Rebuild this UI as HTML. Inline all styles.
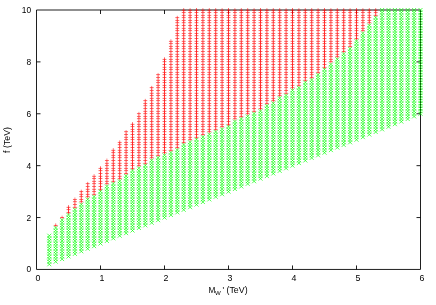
<!DOCTYPE html>
<html><head><meta charset="utf-8"><title>plot</title>
<style>
html,body{margin:0;padding:0;background:#fff;}
body{width:436px;height:305px;overflow:hidden;}
svg{display:block}
text{font-family:"Liberation Sans",sans-serif;font-size:8.4px;fill:#000;}
</style></head><body>
<svg width="436" height="305" viewBox="0 0 436 305">
<rect width="436" height="305" fill="#fff"/>
<g fill="none">
<path stroke="#000" stroke-width="0.88" d="M36.5 10H420.5V269.45H36.5ZM100.5 269.45v-4.0M100.5 10v4.0M164.5 269.45v-4.0M164.5 10v4.0M228.5 269.45v-4.0M228.5 10v4.0M292.5 269.45v-4.0M292.5 10v4.0M356.5 269.45v-4.0M356.5 10v4.0M36.5 217.56h4.0M420.5 217.56h-4.0M36.5 165.67h4.0M420.5 165.67h-4.0M36.5 113.78h4.0M420.5 113.78h-4.0M36.5 61.89h4.0M420.5 61.89h-4.0"/>
<path stroke="#ff0000" stroke-width="0.62" d="M68.5 210.42v3.9M68.5 207.83v3.9M68.5 205.23v3.9M100.5 187.07v3.9M100.5 184.48v3.9M100.5 181.88v3.9M100.5 179.29v3.9M100.5 176.69v3.9M100.5 174.1v3.9M100.5 171.5v3.9M100.5 168.91v3.9M100.5 166.31v3.9M132.5 166.31v3.9M132.5 163.72v3.9M132.5 161.13v3.9M132.5 158.53v3.9M132.5 155.94v3.9M132.5 153.34v3.9M132.5 150.75v3.9M132.5 148.15v3.9M132.5 145.56v3.9M132.5 142.96v3.9M132.5 140.37v3.9M132.5 137.78v3.9M132.5 135.18v3.9M132.5 132.59v3.9M132.5 129.99v3.9M132.5 127.4v3.9M132.5 124.8v3.9M132.5 122.21v3.9M164.5 150.75v3.9M164.5 148.15v3.9M164.5 145.56v3.9M164.5 142.96v3.9M164.5 140.37v3.9M164.5 137.78v3.9M164.5 135.18v3.9M164.5 132.59v3.9M164.5 129.99v3.9M164.5 127.4v3.9M164.5 124.8v3.9M164.5 122.21v3.9M164.5 119.61v3.9M164.5 117.02v3.9M164.5 114.42v3.9M164.5 111.83v3.9M164.5 109.24v3.9M164.5 106.64v3.9M164.5 104.05v3.9M164.5 101.45v3.9M164.5 98.86v3.9M164.5 96.26v3.9M164.5 93.67v3.9M164.5 91.07v3.9M164.5 88.48v3.9M164.5 85.88v3.9M164.5 83.29v3.9M164.5 80.7v3.9M164.5 78.1v3.9M164.5 75.51v3.9M164.5 72.91v3.9M164.5 70.32v3.9M164.5 67.72v3.9M164.5 65.13v3.9M164.5 62.53v3.9M164.5 59.94v3.9M164.5 57.35v3.9M196.5 135.18v3.9M196.5 132.59v3.9M196.5 129.99v3.9M196.5 127.4v3.9M196.5 124.8v3.9M196.5 122.21v3.9M196.5 119.61v3.9M196.5 117.02v3.9M196.5 114.42v3.9M196.5 111.83v3.9M196.5 109.24v3.9M196.5 106.64v3.9M196.5 104.05v3.9M196.5 101.45v3.9M196.5 98.86v3.9M196.5 96.26v3.9M196.5 93.67v3.9M196.5 91.07v3.9M196.5 88.48v3.9M196.5 85.88v3.9M196.5 83.29v3.9M196.5 80.7v3.9M196.5 78.1v3.9M196.5 75.51v3.9M196.5 72.91v3.9M196.5 70.32v3.9M196.5 67.72v3.9M196.5 65.13v3.9M196.5 62.53v3.9M196.5 59.94v3.9M196.5 57.35v3.9M196.5 54.75v3.9M196.5 52.16v3.9M196.5 49.56v3.9M196.5 46.97v3.9M196.5 44.37v3.9M196.5 41.78v3.9M196.5 39.18v3.9M196.5 36.59v3.9M196.5 33.99v3.9M196.5 31.4v3.9M196.5 28.81v3.9M196.5 26.21v3.9M196.5 23.62v3.9M196.5 21.02v3.9M196.5 18.43v3.9M196.5 15.83v3.9M196.5 13.24v3.9M196.5 10.64v3.9M196.5 8.05v3.9M228.5 122.21v3.9M228.5 119.61v3.9M228.5 117.02v3.9M228.5 114.42v3.9M228.5 111.83v3.9M228.5 109.24v3.9M228.5 106.64v3.9M228.5 104.05v3.9M228.5 101.45v3.9M228.5 98.86v3.9M228.5 96.26v3.9M228.5 93.67v3.9M228.5 91.07v3.9M228.5 88.48v3.9M228.5 85.88v3.9M228.5 83.29v3.9M228.5 80.7v3.9M228.5 78.1v3.9M228.5 75.51v3.9M228.5 72.91v3.9M228.5 70.32v3.9M228.5 67.72v3.9M228.5 65.13v3.9M228.5 62.53v3.9M228.5 59.94v3.9M228.5 57.35v3.9M228.5 54.75v3.9M228.5 52.16v3.9M228.5 49.56v3.9M228.5 46.97v3.9M228.5 44.37v3.9M228.5 41.78v3.9M228.5 39.18v3.9M228.5 36.59v3.9M228.5 33.99v3.9M228.5 31.4v3.9M228.5 28.81v3.9M228.5 26.21v3.9M228.5 23.62v3.9M228.5 21.02v3.9M228.5 18.43v3.9M228.5 15.83v3.9M228.5 13.24v3.9M228.5 10.64v3.9M228.5 8.05v3.9M260.5 106.64v3.9M260.5 104.05v3.9M260.5 101.45v3.9M260.5 98.86v3.9M260.5 96.26v3.9M260.5 93.67v3.9M260.5 91.07v3.9M260.5 88.48v3.9M260.5 85.88v3.9M260.5 83.29v3.9M260.5 80.7v3.9M260.5 78.1v3.9M260.5 75.51v3.9M260.5 72.91v3.9M260.5 70.32v3.9M260.5 67.72v3.9M260.5 65.13v3.9M260.5 62.53v3.9M260.5 59.94v3.9M260.5 57.35v3.9M260.5 54.75v3.9M260.5 52.16v3.9M260.5 49.56v3.9M260.5 46.97v3.9M260.5 44.37v3.9M260.5 41.78v3.9M260.5 39.18v3.9M260.5 36.59v3.9M260.5 33.99v3.9M260.5 31.4v3.9M260.5 28.81v3.9M260.5 26.21v3.9M260.5 23.62v3.9M260.5 21.02v3.9M260.5 18.43v3.9M260.5 15.83v3.9M260.5 13.24v3.9M260.5 10.64v3.9M260.5 8.05v3.9M292.5 85.88v3.9M292.5 83.29v3.9M292.5 80.7v3.9M292.5 78.1v3.9M292.5 75.51v3.9M292.5 72.91v3.9M292.5 70.32v3.9M292.5 67.72v3.9M292.5 65.13v3.9M292.5 62.53v3.9M292.5 59.94v3.9M292.5 57.35v3.9M292.5 54.75v3.9M292.5 52.16v3.9M292.5 49.56v3.9M292.5 46.97v3.9M292.5 44.37v3.9M292.5 41.78v3.9M292.5 39.18v3.9M292.5 36.59v3.9M292.5 33.99v3.9M292.5 31.4v3.9M292.5 28.81v3.9M292.5 26.21v3.9M292.5 23.62v3.9M292.5 21.02v3.9M292.5 18.43v3.9M292.5 15.83v3.9M292.5 13.24v3.9M292.5 10.64v3.9M292.5 8.05v3.9M324.5 65.13v3.9M324.5 62.53v3.9M324.5 59.94v3.9M324.5 57.35v3.9M324.5 54.75v3.9M324.5 52.16v3.9M324.5 49.56v3.9M324.5 46.97v3.9M324.5 44.37v3.9M324.5 41.78v3.9M324.5 39.18v3.9M324.5 36.59v3.9M324.5 33.99v3.9M324.5 31.4v3.9M324.5 28.81v3.9M324.5 26.21v3.9M324.5 23.62v3.9M324.5 21.02v3.9M324.5 18.43v3.9M324.5 15.83v3.9M324.5 13.24v3.9M324.5 10.64v3.9M324.5 8.05v3.9M356.5 36.59v3.9M356.5 33.99v3.9M356.5 31.4v3.9M356.5 28.81v3.9M356.5 26.21v3.9M356.5 23.62v3.9M356.5 21.02v3.9M356.5 18.43v3.9M356.5 15.83v3.9M356.5 13.24v3.9M356.5 10.64v3.9M356.5 8.05v3.9"/>
<path stroke="#ff0000" stroke-width="0.52" d="M55.7 223.39v3.9M81.3 200.04v3.9M81.3 197.45v3.9M81.3 194.85v3.9M81.3 192.26v3.9M81.3 189.66v3.9M87.7 194.85v3.9M87.7 192.26v3.9M87.7 189.66v3.9M87.7 187.07v3.9M87.7 184.48v3.9M87.7 181.88v3.9M113.3 179.29v3.9M113.3 176.69v3.9M113.3 174.1v3.9M113.3 171.5v3.9M113.3 168.91v3.9M113.3 166.31v3.9M113.3 163.72v3.9M113.3 161.13v3.9M113.3 158.53v3.9M113.3 155.94v3.9M113.3 153.34v3.9M113.3 150.75v3.9M113.3 148.15v3.9M119.7 176.69v3.9M119.7 174.1v3.9M119.7 171.5v3.9M119.7 168.91v3.9M119.7 166.31v3.9M119.7 163.72v3.9M119.7 161.13v3.9M119.7 158.53v3.9M119.7 155.94v3.9M119.7 153.34v3.9M119.7 150.75v3.9M119.7 148.15v3.9M119.7 145.56v3.9M119.7 142.96v3.9M119.7 140.37v3.9M145.3 161.13v3.9M145.3 158.53v3.9M145.3 155.94v3.9M145.3 153.34v3.9M145.3 150.75v3.9M145.3 148.15v3.9M145.3 145.56v3.9M145.3 142.96v3.9M145.3 140.37v3.9M145.3 137.78v3.9M145.3 135.18v3.9M145.3 132.59v3.9M145.3 129.99v3.9M145.3 127.4v3.9M145.3 124.8v3.9M145.3 122.21v3.9M145.3 119.61v3.9M145.3 117.02v3.9M145.3 114.42v3.9M145.3 111.83v3.9M145.3 109.24v3.9M145.3 106.64v3.9M145.3 104.05v3.9M145.3 101.45v3.9M145.3 98.86v3.9M151.7 155.94v3.9M151.7 153.34v3.9M151.7 150.75v3.9M151.7 148.15v3.9M151.7 145.56v3.9M151.7 142.96v3.9M151.7 140.37v3.9M151.7 137.78v3.9M151.7 135.18v3.9M151.7 132.59v3.9M151.7 129.99v3.9M151.7 127.4v3.9M151.7 124.8v3.9M151.7 122.21v3.9M151.7 119.61v3.9M151.7 117.02v3.9M151.7 114.42v3.9M151.7 111.83v3.9M151.7 109.24v3.9M151.7 106.64v3.9M151.7 104.05v3.9M151.7 101.45v3.9M151.7 98.86v3.9M151.7 96.26v3.9M151.7 93.67v3.9M151.7 91.07v3.9M151.7 88.48v3.9M151.7 85.88v3.9M177.3 145.56v3.9M177.3 142.96v3.9M177.3 140.37v3.9M177.3 137.78v3.9M177.3 135.18v3.9M177.3 132.59v3.9M177.3 129.99v3.9M177.3 127.4v3.9M177.3 124.8v3.9M177.3 122.21v3.9M177.3 119.61v3.9M177.3 117.02v3.9M177.3 114.42v3.9M177.3 111.83v3.9M177.3 109.24v3.9M177.3 106.64v3.9M177.3 104.05v3.9M177.3 101.45v3.9M177.3 98.86v3.9M177.3 96.26v3.9M177.3 93.67v3.9M177.3 91.07v3.9M177.3 88.48v3.9M177.3 85.88v3.9M177.3 83.29v3.9M177.3 80.7v3.9M177.3 78.1v3.9M177.3 75.51v3.9M177.3 72.91v3.9M177.3 70.32v3.9M177.3 67.72v3.9M177.3 65.13v3.9M177.3 62.53v3.9M177.3 59.94v3.9M177.3 57.35v3.9M177.3 54.75v3.9M177.3 52.16v3.9M177.3 49.56v3.9M177.3 46.97v3.9M177.3 44.37v3.9M177.3 41.78v3.9M177.3 39.18v3.9M177.3 36.59v3.9M177.3 33.99v3.9M177.3 31.4v3.9M177.3 28.81v3.9M177.3 26.21v3.9M177.3 23.62v3.9M177.3 21.02v3.9M177.3 18.43v3.9M177.3 15.83v3.9M183.7 140.37v3.9M183.7 137.78v3.9M183.7 135.18v3.9M183.7 132.59v3.9M183.7 129.99v3.9M183.7 127.4v3.9M183.7 124.8v3.9M183.7 122.21v3.9M183.7 119.61v3.9M183.7 117.02v3.9M183.7 114.42v3.9M183.7 111.83v3.9M183.7 109.24v3.9M183.7 106.64v3.9M183.7 104.05v3.9M183.7 101.45v3.9M183.7 98.86v3.9M183.7 96.26v3.9M183.7 93.67v3.9M183.7 91.07v3.9M183.7 88.48v3.9M183.7 85.88v3.9M183.7 83.29v3.9M183.7 80.7v3.9M183.7 78.1v3.9M183.7 75.51v3.9M183.7 72.91v3.9M183.7 70.32v3.9M183.7 67.72v3.9M183.7 65.13v3.9M183.7 62.53v3.9M183.7 59.94v3.9M183.7 57.35v3.9M183.7 54.75v3.9M183.7 52.16v3.9M183.7 49.56v3.9M183.7 46.97v3.9M183.7 44.37v3.9M183.7 41.78v3.9M183.7 39.18v3.9M183.7 36.59v3.9M183.7 33.99v3.9M183.7 31.4v3.9M183.7 28.81v3.9M183.7 26.21v3.9M183.7 23.62v3.9M183.7 21.02v3.9M183.7 18.43v3.9M183.7 15.83v3.9M183.7 13.24v3.9M183.7 10.64v3.9M183.7 8.05v3.9M209.3 129.99v3.9M209.3 127.4v3.9M209.3 124.8v3.9M209.3 122.21v3.9M209.3 119.61v3.9M209.3 117.02v3.9M209.3 114.42v3.9M209.3 111.83v3.9M209.3 109.24v3.9M209.3 106.64v3.9M209.3 104.05v3.9M209.3 101.45v3.9M209.3 98.86v3.9M209.3 96.26v3.9M209.3 93.67v3.9M209.3 91.07v3.9M209.3 88.48v3.9M209.3 85.88v3.9M209.3 83.29v3.9M209.3 80.7v3.9M209.3 78.1v3.9M209.3 75.51v3.9M209.3 72.91v3.9M209.3 70.32v3.9M209.3 67.72v3.9M209.3 65.13v3.9M209.3 62.53v3.9M209.3 59.94v3.9M209.3 57.35v3.9M209.3 54.75v3.9M209.3 52.16v3.9M209.3 49.56v3.9M209.3 46.97v3.9M209.3 44.37v3.9M209.3 41.78v3.9M209.3 39.18v3.9M209.3 36.59v3.9M209.3 33.99v3.9M209.3 31.4v3.9M209.3 28.81v3.9M209.3 26.21v3.9M209.3 23.62v3.9M209.3 21.02v3.9M209.3 18.43v3.9M209.3 15.83v3.9M209.3 13.24v3.9M209.3 10.64v3.9M209.3 8.05v3.9M215.7 127.4v3.9M215.7 124.8v3.9M215.7 122.21v3.9M215.7 119.61v3.9M215.7 117.02v3.9M215.7 114.42v3.9M215.7 111.83v3.9M215.7 109.24v3.9M215.7 106.64v3.9M215.7 104.05v3.9M215.7 101.45v3.9M215.7 98.86v3.9M215.7 96.26v3.9M215.7 93.67v3.9M215.7 91.07v3.9M215.7 88.48v3.9M215.7 85.88v3.9M215.7 83.29v3.9M215.7 80.7v3.9M215.7 78.1v3.9M215.7 75.51v3.9M215.7 72.91v3.9M215.7 70.32v3.9M215.7 67.72v3.9M215.7 65.13v3.9M215.7 62.53v3.9M215.7 59.94v3.9M215.7 57.35v3.9M215.7 54.75v3.9M215.7 52.16v3.9M215.7 49.56v3.9M215.7 46.97v3.9M215.7 44.37v3.9M215.7 41.78v3.9M215.7 39.18v3.9M215.7 36.59v3.9M215.7 33.99v3.9M215.7 31.4v3.9M215.7 28.81v3.9M215.7 26.21v3.9M215.7 23.62v3.9M215.7 21.02v3.9M215.7 18.43v3.9M215.7 15.83v3.9M215.7 13.24v3.9M215.7 10.64v3.9M215.7 8.05v3.9M241.3 114.42v3.9M241.3 111.83v3.9M241.3 109.24v3.9M241.3 106.64v3.9M241.3 104.05v3.9M241.3 101.45v3.9M241.3 98.86v3.9M241.3 96.26v3.9M241.3 93.67v3.9M241.3 91.07v3.9M241.3 88.48v3.9M241.3 85.88v3.9M241.3 83.29v3.9M241.3 80.7v3.9M241.3 78.1v3.9M241.3 75.51v3.9M241.3 72.91v3.9M241.3 70.32v3.9M241.3 67.72v3.9M241.3 65.13v3.9M241.3 62.53v3.9M241.3 59.94v3.9M241.3 57.35v3.9M241.3 54.75v3.9M241.3 52.16v3.9M241.3 49.56v3.9M241.3 46.97v3.9M241.3 44.37v3.9M241.3 41.78v3.9M241.3 39.18v3.9M241.3 36.59v3.9M241.3 33.99v3.9M241.3 31.4v3.9M241.3 28.81v3.9M241.3 26.21v3.9M241.3 23.62v3.9M241.3 21.02v3.9M241.3 18.43v3.9M241.3 15.83v3.9M241.3 13.24v3.9M241.3 10.64v3.9M241.3 8.05v3.9M247.7 111.83v3.9M247.7 109.24v3.9M247.7 106.64v3.9M247.7 104.05v3.9M247.7 101.45v3.9M247.7 98.86v3.9M247.7 96.26v3.9M247.7 93.67v3.9M247.7 91.07v3.9M247.7 88.48v3.9M247.7 85.88v3.9M247.7 83.29v3.9M247.7 80.7v3.9M247.7 78.1v3.9M247.7 75.51v3.9M247.7 72.91v3.9M247.7 70.32v3.9M247.7 67.72v3.9M247.7 65.13v3.9M247.7 62.53v3.9M247.7 59.94v3.9M247.7 57.35v3.9M247.7 54.75v3.9M247.7 52.16v3.9M247.7 49.56v3.9M247.7 46.97v3.9M247.7 44.37v3.9M247.7 41.78v3.9M247.7 39.18v3.9M247.7 36.59v3.9M247.7 33.99v3.9M247.7 31.4v3.9M247.7 28.81v3.9M247.7 26.21v3.9M247.7 23.62v3.9M247.7 21.02v3.9M247.7 18.43v3.9M247.7 15.83v3.9M247.7 13.24v3.9M247.7 10.64v3.9M247.7 8.05v3.9M273.3 98.86v3.9M273.3 96.26v3.9M273.3 93.67v3.9M273.3 91.07v3.9M273.3 88.48v3.9M273.3 85.88v3.9M273.3 83.29v3.9M273.3 80.7v3.9M273.3 78.1v3.9M273.3 75.51v3.9M273.3 72.91v3.9M273.3 70.32v3.9M273.3 67.72v3.9M273.3 65.13v3.9M273.3 62.53v3.9M273.3 59.94v3.9M273.3 57.35v3.9M273.3 54.75v3.9M273.3 52.16v3.9M273.3 49.56v3.9M273.3 46.97v3.9M273.3 44.37v3.9M273.3 41.78v3.9M273.3 39.18v3.9M273.3 36.59v3.9M273.3 33.99v3.9M273.3 31.4v3.9M273.3 28.81v3.9M273.3 26.21v3.9M273.3 23.62v3.9M273.3 21.02v3.9M273.3 18.43v3.9M273.3 15.83v3.9M273.3 13.24v3.9M273.3 10.64v3.9M273.3 8.05v3.9M279.7 93.67v3.9M279.7 91.07v3.9M279.7 88.48v3.9M279.7 85.88v3.9M279.7 83.29v3.9M279.7 80.7v3.9M279.7 78.1v3.9M279.7 75.51v3.9M279.7 72.91v3.9M279.7 70.32v3.9M279.7 67.72v3.9M279.7 65.13v3.9M279.7 62.53v3.9M279.7 59.94v3.9M279.7 57.35v3.9M279.7 54.75v3.9M279.7 52.16v3.9M279.7 49.56v3.9M279.7 46.97v3.9M279.7 44.37v3.9M279.7 41.78v3.9M279.7 39.18v3.9M279.7 36.59v3.9M279.7 33.99v3.9M279.7 31.4v3.9M279.7 28.81v3.9M279.7 26.21v3.9M279.7 23.62v3.9M279.7 21.02v3.9M279.7 18.43v3.9M279.7 15.83v3.9M279.7 13.24v3.9M279.7 10.64v3.9M279.7 8.05v3.9M305.3 78.1v3.9M305.3 75.51v3.9M305.3 72.91v3.9M305.3 70.32v3.9M305.3 67.72v3.9M305.3 65.13v3.9M305.3 62.53v3.9M305.3 59.94v3.9M305.3 57.35v3.9M305.3 54.75v3.9M305.3 52.16v3.9M305.3 49.56v3.9M305.3 46.97v3.9M305.3 44.37v3.9M305.3 41.78v3.9M305.3 39.18v3.9M305.3 36.59v3.9M305.3 33.99v3.9M305.3 31.4v3.9M305.3 28.81v3.9M305.3 26.21v3.9M305.3 23.62v3.9M305.3 21.02v3.9M305.3 18.43v3.9M305.3 15.83v3.9M305.3 13.24v3.9M305.3 10.64v3.9M305.3 8.05v3.9M311.7 75.51v3.9M311.7 72.91v3.9M311.7 70.32v3.9M311.7 67.72v3.9M311.7 65.13v3.9M311.7 62.53v3.9M311.7 59.94v3.9M311.7 57.35v3.9M311.7 54.75v3.9M311.7 52.16v3.9M311.7 49.56v3.9M311.7 46.97v3.9M311.7 44.37v3.9M311.7 41.78v3.9M311.7 39.18v3.9M311.7 36.59v3.9M311.7 33.99v3.9M311.7 31.4v3.9M311.7 28.81v3.9M311.7 26.21v3.9M311.7 23.62v3.9M311.7 21.02v3.9M311.7 18.43v3.9M311.7 15.83v3.9M311.7 13.24v3.9M311.7 10.64v3.9M311.7 8.05v3.9M337.3 54.75v3.9M337.3 52.16v3.9M337.3 49.56v3.9M337.3 46.97v3.9M337.3 44.37v3.9M337.3 41.78v3.9M337.3 39.18v3.9M337.3 36.59v3.9M337.3 33.99v3.9M337.3 31.4v3.9M337.3 28.81v3.9M337.3 26.21v3.9M337.3 23.62v3.9M337.3 21.02v3.9M337.3 18.43v3.9M337.3 15.83v3.9M337.3 13.24v3.9M337.3 10.64v3.9M337.3 8.05v3.9M343.7 49.56v3.9M343.7 46.97v3.9M343.7 44.37v3.9M343.7 41.78v3.9M343.7 39.18v3.9M343.7 36.59v3.9M343.7 33.99v3.9M343.7 31.4v3.9M343.7 28.81v3.9M343.7 26.21v3.9M343.7 23.62v3.9M343.7 21.02v3.9M343.7 18.43v3.9M343.7 15.83v3.9M343.7 13.24v3.9M343.7 10.64v3.9M343.7 8.05v3.9M369.3 21.02v3.9M369.3 18.43v3.9M369.3 15.83v3.9M369.3 13.24v3.9M369.3 10.64v3.9M369.3 8.05v3.9M375.7 13.24v3.9M375.7 10.64v3.9M375.7 8.05v3.9"/>
<path stroke="#ff0000" stroke-width="0.45" d="M62.1 215.61v3.9M74.9 205.23v3.9M74.9 202.64v3.9M74.9 200.04v3.9M74.9 197.45v3.9M94.1 192.26v3.9M94.1 189.66v3.9M94.1 187.07v3.9M94.1 184.48v3.9M94.1 181.88v3.9M94.1 179.29v3.9M94.1 176.69v3.9M94.1 174.1v3.9M106.9 181.88v3.9M106.9 179.29v3.9M106.9 176.69v3.9M106.9 174.1v3.9M106.9 171.5v3.9M106.9 168.91v3.9M106.9 166.31v3.9M106.9 163.72v3.9M106.9 161.13v3.9M106.9 158.53v3.9M126.1 171.5v3.9M126.1 168.91v3.9M126.1 166.31v3.9M126.1 163.72v3.9M126.1 161.13v3.9M126.1 158.53v3.9M126.1 155.94v3.9M126.1 153.34v3.9M126.1 150.75v3.9M126.1 148.15v3.9M126.1 145.56v3.9M126.1 142.96v3.9M126.1 140.37v3.9M126.1 137.78v3.9M126.1 135.18v3.9M126.1 132.59v3.9M126.1 129.99v3.9M138.9 163.72v3.9M138.9 161.13v3.9M138.9 158.53v3.9M138.9 155.94v3.9M138.9 153.34v3.9M138.9 150.75v3.9M138.9 148.15v3.9M138.9 145.56v3.9M138.9 142.96v3.9M138.9 140.37v3.9M138.9 137.78v3.9M138.9 135.18v3.9M138.9 132.59v3.9M138.9 129.99v3.9M138.9 127.4v3.9M138.9 124.8v3.9M138.9 122.21v3.9M138.9 119.61v3.9M138.9 117.02v3.9M138.9 114.42v3.9M138.9 111.83v3.9M158.1 153.34v3.9M158.1 150.75v3.9M158.1 148.15v3.9M158.1 145.56v3.9M158.1 142.96v3.9M158.1 140.37v3.9M158.1 137.78v3.9M158.1 135.18v3.9M158.1 132.59v3.9M158.1 129.99v3.9M158.1 127.4v3.9M158.1 124.8v3.9M158.1 122.21v3.9M158.1 119.61v3.9M158.1 117.02v3.9M158.1 114.42v3.9M158.1 111.83v3.9M158.1 109.24v3.9M158.1 106.64v3.9M158.1 104.05v3.9M158.1 101.45v3.9M158.1 98.86v3.9M158.1 96.26v3.9M158.1 93.67v3.9M158.1 91.07v3.9M158.1 88.48v3.9M158.1 85.88v3.9M158.1 83.29v3.9M158.1 80.7v3.9M158.1 78.1v3.9M158.1 75.51v3.9M158.1 72.91v3.9M170.9 148.15v3.9M170.9 145.56v3.9M170.9 142.96v3.9M170.9 140.37v3.9M170.9 137.78v3.9M170.9 135.18v3.9M170.9 132.59v3.9M170.9 129.99v3.9M170.9 127.4v3.9M170.9 124.8v3.9M170.9 122.21v3.9M170.9 119.61v3.9M170.9 117.02v3.9M170.9 114.42v3.9M170.9 111.83v3.9M170.9 109.24v3.9M170.9 106.64v3.9M170.9 104.05v3.9M170.9 101.45v3.9M170.9 98.86v3.9M170.9 96.26v3.9M170.9 93.67v3.9M170.9 91.07v3.9M170.9 88.48v3.9M170.9 85.88v3.9M170.9 83.29v3.9M170.9 80.7v3.9M170.9 78.1v3.9M170.9 75.51v3.9M170.9 72.91v3.9M170.9 70.32v3.9M170.9 67.72v3.9M170.9 65.13v3.9M170.9 62.53v3.9M170.9 59.94v3.9M170.9 57.35v3.9M170.9 54.75v3.9M170.9 52.16v3.9M170.9 49.56v3.9M170.9 46.97v3.9M170.9 44.37v3.9M170.9 41.78v3.9M170.9 39.18v3.9M190.1 137.78v3.9M190.1 135.18v3.9M190.1 132.59v3.9M190.1 129.99v3.9M190.1 127.4v3.9M190.1 124.8v3.9M190.1 122.21v3.9M190.1 119.61v3.9M190.1 117.02v3.9M190.1 114.42v3.9M190.1 111.83v3.9M190.1 109.24v3.9M190.1 106.64v3.9M190.1 104.05v3.9M190.1 101.45v3.9M190.1 98.86v3.9M190.1 96.26v3.9M190.1 93.67v3.9M190.1 91.07v3.9M190.1 88.48v3.9M190.1 85.88v3.9M190.1 83.29v3.9M190.1 80.7v3.9M190.1 78.1v3.9M190.1 75.51v3.9M190.1 72.91v3.9M190.1 70.32v3.9M190.1 67.72v3.9M190.1 65.13v3.9M190.1 62.53v3.9M190.1 59.94v3.9M190.1 57.35v3.9M190.1 54.75v3.9M190.1 52.16v3.9M190.1 49.56v3.9M190.1 46.97v3.9M190.1 44.37v3.9M190.1 41.78v3.9M190.1 39.18v3.9M190.1 36.59v3.9M190.1 33.99v3.9M190.1 31.4v3.9M190.1 28.81v3.9M190.1 26.21v3.9M190.1 23.62v3.9M190.1 21.02v3.9M190.1 18.43v3.9M190.1 15.83v3.9M190.1 13.24v3.9M190.1 10.64v3.9M190.1 8.05v3.9M202.9 132.59v3.9M202.9 129.99v3.9M202.9 127.4v3.9M202.9 124.8v3.9M202.9 122.21v3.9M202.9 119.61v3.9M202.9 117.02v3.9M202.9 114.42v3.9M202.9 111.83v3.9M202.9 109.24v3.9M202.9 106.64v3.9M202.9 104.05v3.9M202.9 101.45v3.9M202.9 98.86v3.9M202.9 96.26v3.9M202.9 93.67v3.9M202.9 91.07v3.9M202.9 88.48v3.9M202.9 85.88v3.9M202.9 83.29v3.9M202.9 80.7v3.9M202.9 78.1v3.9M202.9 75.51v3.9M202.9 72.91v3.9M202.9 70.32v3.9M202.9 67.72v3.9M202.9 65.13v3.9M202.9 62.53v3.9M202.9 59.94v3.9M202.9 57.35v3.9M202.9 54.75v3.9M202.9 52.16v3.9M202.9 49.56v3.9M202.9 46.97v3.9M202.9 44.37v3.9M202.9 41.78v3.9M202.9 39.18v3.9M202.9 36.59v3.9M202.9 33.99v3.9M202.9 31.4v3.9M202.9 28.81v3.9M202.9 26.21v3.9M202.9 23.62v3.9M202.9 21.02v3.9M202.9 18.43v3.9M202.9 15.83v3.9M202.9 13.24v3.9M202.9 10.64v3.9M202.9 8.05v3.9M222.1 124.8v3.9M222.1 122.21v3.9M222.1 119.61v3.9M222.1 117.02v3.9M222.1 114.42v3.9M222.1 111.83v3.9M222.1 109.24v3.9M222.1 106.64v3.9M222.1 104.05v3.9M222.1 101.45v3.9M222.1 98.86v3.9M222.1 96.26v3.9M222.1 93.67v3.9M222.1 91.07v3.9M222.1 88.48v3.9M222.1 85.88v3.9M222.1 83.29v3.9M222.1 80.7v3.9M222.1 78.1v3.9M222.1 75.51v3.9M222.1 72.91v3.9M222.1 70.32v3.9M222.1 67.72v3.9M222.1 65.13v3.9M222.1 62.53v3.9M222.1 59.94v3.9M222.1 57.35v3.9M222.1 54.75v3.9M222.1 52.16v3.9M222.1 49.56v3.9M222.1 46.97v3.9M222.1 44.37v3.9M222.1 41.78v3.9M222.1 39.18v3.9M222.1 36.59v3.9M222.1 33.99v3.9M222.1 31.4v3.9M222.1 28.81v3.9M222.1 26.21v3.9M222.1 23.62v3.9M222.1 21.02v3.9M222.1 18.43v3.9M222.1 15.83v3.9M222.1 13.24v3.9M222.1 10.64v3.9M222.1 8.05v3.9M234.9 117.02v3.9M234.9 114.42v3.9M234.9 111.83v3.9M234.9 109.24v3.9M234.9 106.64v3.9M234.9 104.05v3.9M234.9 101.45v3.9M234.9 98.86v3.9M234.9 96.26v3.9M234.9 93.67v3.9M234.9 91.07v3.9M234.9 88.48v3.9M234.9 85.88v3.9M234.9 83.29v3.9M234.9 80.7v3.9M234.9 78.1v3.9M234.9 75.51v3.9M234.9 72.91v3.9M234.9 70.32v3.9M234.9 67.72v3.9M234.9 65.13v3.9M234.9 62.53v3.9M234.9 59.94v3.9M234.9 57.35v3.9M234.9 54.75v3.9M234.9 52.16v3.9M234.9 49.56v3.9M234.9 46.97v3.9M234.9 44.37v3.9M234.9 41.78v3.9M234.9 39.18v3.9M234.9 36.59v3.9M234.9 33.99v3.9M234.9 31.4v3.9M234.9 28.81v3.9M234.9 26.21v3.9M234.9 23.62v3.9M234.9 21.02v3.9M234.9 18.43v3.9M234.9 15.83v3.9M234.9 13.24v3.9M234.9 10.64v3.9M234.9 8.05v3.9M254.1 109.24v3.9M254.1 106.64v3.9M254.1 104.05v3.9M254.1 101.45v3.9M254.1 98.86v3.9M254.1 96.26v3.9M254.1 93.67v3.9M254.1 91.07v3.9M254.1 88.48v3.9M254.1 85.88v3.9M254.1 83.29v3.9M254.1 80.7v3.9M254.1 78.1v3.9M254.1 75.51v3.9M254.1 72.91v3.9M254.1 70.32v3.9M254.1 67.72v3.9M254.1 65.13v3.9M254.1 62.53v3.9M254.1 59.94v3.9M254.1 57.35v3.9M254.1 54.75v3.9M254.1 52.16v3.9M254.1 49.56v3.9M254.1 46.97v3.9M254.1 44.37v3.9M254.1 41.78v3.9M254.1 39.18v3.9M254.1 36.59v3.9M254.1 33.99v3.9M254.1 31.4v3.9M254.1 28.81v3.9M254.1 26.21v3.9M254.1 23.62v3.9M254.1 21.02v3.9M254.1 18.43v3.9M254.1 15.83v3.9M254.1 13.24v3.9M254.1 10.64v3.9M254.1 8.05v3.9M266.9 101.45v3.9M266.9 98.86v3.9M266.9 96.26v3.9M266.9 93.67v3.9M266.9 91.07v3.9M266.9 88.48v3.9M266.9 85.88v3.9M266.9 83.29v3.9M266.9 80.7v3.9M266.9 78.1v3.9M266.9 75.51v3.9M266.9 72.91v3.9M266.9 70.32v3.9M266.9 67.72v3.9M266.9 65.13v3.9M266.9 62.53v3.9M266.9 59.94v3.9M266.9 57.35v3.9M266.9 54.75v3.9M266.9 52.16v3.9M266.9 49.56v3.9M266.9 46.97v3.9M266.9 44.37v3.9M266.9 41.78v3.9M266.9 39.18v3.9M266.9 36.59v3.9M266.9 33.99v3.9M266.9 31.4v3.9M266.9 28.81v3.9M266.9 26.21v3.9M266.9 23.62v3.9M266.9 21.02v3.9M266.9 18.43v3.9M266.9 15.83v3.9M266.9 13.24v3.9M266.9 10.64v3.9M266.9 8.05v3.9M286.1 91.07v3.9M286.1 88.48v3.9M286.1 85.88v3.9M286.1 83.29v3.9M286.1 80.7v3.9M286.1 78.1v3.9M286.1 75.51v3.9M286.1 72.91v3.9M286.1 70.32v3.9M286.1 67.72v3.9M286.1 65.13v3.9M286.1 62.53v3.9M286.1 59.94v3.9M286.1 57.35v3.9M286.1 54.75v3.9M286.1 52.16v3.9M286.1 49.56v3.9M286.1 46.97v3.9M286.1 44.37v3.9M286.1 41.78v3.9M286.1 39.18v3.9M286.1 36.59v3.9M286.1 33.99v3.9M286.1 31.4v3.9M286.1 28.81v3.9M286.1 26.21v3.9M286.1 23.62v3.9M286.1 21.02v3.9M286.1 18.43v3.9M286.1 15.83v3.9M286.1 13.24v3.9M286.1 10.64v3.9M286.1 8.05v3.9M298.9 83.29v3.9M298.9 80.7v3.9M298.9 78.1v3.9M298.9 75.51v3.9M298.9 72.91v3.9M298.9 70.32v3.9M298.9 67.72v3.9M298.9 65.13v3.9M298.9 62.53v3.9M298.9 59.94v3.9M298.9 57.35v3.9M298.9 54.75v3.9M298.9 52.16v3.9M298.9 49.56v3.9M298.9 46.97v3.9M298.9 44.37v3.9M298.9 41.78v3.9M298.9 39.18v3.9M298.9 36.59v3.9M298.9 33.99v3.9M298.9 31.4v3.9M298.9 28.81v3.9M298.9 26.21v3.9M298.9 23.62v3.9M298.9 21.02v3.9M298.9 18.43v3.9M298.9 15.83v3.9M298.9 13.24v3.9M298.9 10.64v3.9M298.9 8.05v3.9M318.1 70.32v3.9M318.1 67.72v3.9M318.1 65.13v3.9M318.1 62.53v3.9M318.1 59.94v3.9M318.1 57.35v3.9M318.1 54.75v3.9M318.1 52.16v3.9M318.1 49.56v3.9M318.1 46.97v3.9M318.1 44.37v3.9M318.1 41.78v3.9M318.1 39.18v3.9M318.1 36.59v3.9M318.1 33.99v3.9M318.1 31.4v3.9M318.1 28.81v3.9M318.1 26.21v3.9M318.1 23.62v3.9M318.1 21.02v3.9M318.1 18.43v3.9M318.1 15.83v3.9M318.1 13.24v3.9M318.1 10.64v3.9M318.1 8.05v3.9M330.9 59.94v3.9M330.9 57.35v3.9M330.9 54.75v3.9M330.9 52.16v3.9M330.9 49.56v3.9M330.9 46.97v3.9M330.9 44.37v3.9M330.9 41.78v3.9M330.9 39.18v3.9M330.9 36.59v3.9M330.9 33.99v3.9M330.9 31.4v3.9M330.9 28.81v3.9M330.9 26.21v3.9M330.9 23.62v3.9M330.9 21.02v3.9M330.9 18.43v3.9M330.9 15.83v3.9M330.9 13.24v3.9M330.9 10.64v3.9M330.9 8.05v3.9M350.1 44.37v3.9M350.1 41.78v3.9M350.1 39.18v3.9M350.1 36.59v3.9M350.1 33.99v3.9M350.1 31.4v3.9M350.1 28.81v3.9M350.1 26.21v3.9M350.1 23.62v3.9M350.1 21.02v3.9M350.1 18.43v3.9M350.1 15.83v3.9M350.1 13.24v3.9M350.1 10.64v3.9M350.1 8.05v3.9M362.9 28.81v3.9M362.9 26.21v3.9M362.9 23.62v3.9M362.9 21.02v3.9M362.9 18.43v3.9M362.9 15.83v3.9M362.9 13.24v3.9M362.9 10.64v3.9M362.9 8.05v3.9"/>
<path stroke="#ff0000" stroke-width="0.62" d="M53.75 225.44h3.9M60.15 217.52h3.9M66.55 212.45h3.9M66.55 209.61h3.9M66.55 207.37h3.9M72.95 207.37h3.9M72.95 204.53h3.9M72.95 201.7h3.9M72.95 199.46h3.9M79.35 201.7h3.9M79.35 199.46h3.9M79.35 196.62h3.9M79.35 194.38h3.9M79.35 191.55h3.9M85.75 196.62h3.9M85.75 194.38h3.9M85.75 191.55h3.9M85.75 189.31h3.9M85.75 186.47h3.9M85.75 183.63h3.9M92.15 194.38h3.9M92.15 191.55h3.9M92.15 189.31h3.9M92.15 186.47h3.9M92.15 183.63h3.9M92.15 181.39h3.9M92.15 178.56h3.9M92.15 176.32h3.9M98.55 189.31h3.9M98.55 186.47h3.9M98.55 183.63h3.9M98.55 181.39h3.9M98.55 178.56h3.9M98.55 176.32h3.9M98.55 173.48h3.9M98.55 170.64h3.9M98.55 168.41h3.9M104.95 183.63h3.9M104.95 181.39h3.9M104.95 178.56h3.9M104.95 176.32h3.9M104.95 173.48h3.9M104.95 170.64h3.9M104.95 168.41h3.9M104.95 165.57h3.9M104.95 163.33h3.9M104.95 160.49h3.9M111.35 181.39h3.9M111.35 178.56h3.9M111.35 176.32h3.9M111.35 173.48h3.9M111.35 170.64h3.9M111.35 168.41h3.9M111.35 165.57h3.9M111.35 163.33h3.9M111.35 160.49h3.9M111.35 157.65h3.9M111.35 155.42h3.9M111.35 152.58h3.9M111.35 150.34h3.9M117.75 178.56h3.9M117.75 176.32h3.9M117.75 173.48h3.9M117.75 170.64h3.9M117.75 168.41h3.9M117.75 165.57h3.9M117.75 163.33h3.9M117.75 160.49h3.9M117.75 157.65h3.9M117.75 155.42h3.9M117.75 152.58h3.9M117.75 150.34h3.9M117.75 147.5h3.9M117.75 144.67h3.9M117.75 142.43h3.9M124.15 173.48h3.9M124.15 170.64h3.9M124.15 168.41h3.9M124.15 165.57h3.9M124.15 163.33h3.9M124.15 160.49h3.9M124.15 157.65h3.9M124.15 155.42h3.9M124.15 152.58h3.9M124.15 150.34h3.9M124.15 147.5h3.9M124.15 144.67h3.9M124.15 142.43h3.9M124.15 139.59h3.9M124.15 137.35h3.9M124.15 134.51h3.9M124.15 131.68h3.9M130.55 168.41h3.9M130.55 165.57h3.9M130.55 163.33h3.9M130.55 160.49h3.9M130.55 157.65h3.9M130.55 155.42h3.9M130.55 152.58h3.9M130.55 150.34h3.9M130.55 147.5h3.9M130.55 144.67h3.9M130.55 142.43h3.9M130.55 139.59h3.9M130.55 137.35h3.9M130.55 134.51h3.9M130.55 131.68h3.9M130.55 129.44h3.9M130.55 126.6h3.9M130.55 124.36h3.9M136.95 165.57h3.9M136.95 163.33h3.9M136.95 160.49h3.9M136.95 157.65h3.9M136.95 155.42h3.9M136.95 152.58h3.9M136.95 150.34h3.9M136.95 147.5h3.9M136.95 144.67h3.9M136.95 142.43h3.9M136.95 139.59h3.9M136.95 137.35h3.9M136.95 134.51h3.9M136.95 131.68h3.9M136.95 129.44h3.9M136.95 126.6h3.9M136.95 124.36h3.9M136.95 121.53h3.9M136.95 118.69h3.9M136.95 116.45h3.9M136.95 113.61h3.9M143.35 163.33h3.9M143.35 160.49h3.9M143.35 157.65h3.9M143.35 155.42h3.9M143.35 152.58h3.9M143.35 150.34h3.9M143.35 147.5h3.9M143.35 144.67h3.9M143.35 142.43h3.9M143.35 139.59h3.9M143.35 137.35h3.9M143.35 134.51h3.9M143.35 131.68h3.9M143.35 129.44h3.9M143.35 126.6h3.9M143.35 124.36h3.9M143.35 121.53h3.9M143.35 118.69h3.9M143.35 116.45h3.9M143.35 113.61h3.9M143.35 111.37h3.9M143.35 108.54h3.9M143.35 105.7h3.9M143.35 103.46h3.9M143.35 100.62h3.9M149.75 157.65h3.9M149.75 155.42h3.9M149.75 152.58h3.9M149.75 150.34h3.9M149.75 147.5h3.9M149.75 144.67h3.9M149.75 142.43h3.9M149.75 139.59h3.9M149.75 137.35h3.9M149.75 134.51h3.9M149.75 131.68h3.9M149.75 129.44h3.9M149.75 126.6h3.9M149.75 124.36h3.9M149.75 121.53h3.9M149.75 118.69h3.9M149.75 116.45h3.9M149.75 113.61h3.9M149.75 111.37h3.9M149.75 108.54h3.9M149.75 105.7h3.9M149.75 103.46h3.9M149.75 100.62h3.9M149.75 98.39h3.9M149.75 95.55h3.9M149.75 93.31h3.9M149.75 90.47h3.9M149.75 87.63h3.9M156.15 155.42h3.9M156.15 152.58h3.9M156.15 150.34h3.9M156.15 147.5h3.9M156.15 144.67h3.9M156.15 142.43h3.9M156.15 139.59h3.9M156.15 137.35h3.9M156.15 134.51h3.9M156.15 131.68h3.9M156.15 129.44h3.9M156.15 126.6h3.9M156.15 124.36h3.9M156.15 121.53h3.9M156.15 118.69h3.9M156.15 116.45h3.9M156.15 113.61h3.9M156.15 111.37h3.9M156.15 108.54h3.9M156.15 105.7h3.9M156.15 103.46h3.9M156.15 100.62h3.9M156.15 98.39h3.9M156.15 95.55h3.9M156.15 93.31h3.9M156.15 90.47h3.9M156.15 87.63h3.9M156.15 85.4h3.9M156.15 82.56h3.9M156.15 80.32h3.9M156.15 77.48h3.9M156.15 74.64h3.9M162.55 152.58h3.9M162.55 150.34h3.9M162.55 147.5h3.9M162.55 144.67h3.9M162.55 142.43h3.9M162.55 139.59h3.9M162.55 137.35h3.9M162.55 134.51h3.9M162.55 131.68h3.9M162.55 129.44h3.9M162.55 126.6h3.9M162.55 124.36h3.9M162.55 121.53h3.9M162.55 118.69h3.9M162.55 116.45h3.9M162.55 113.61h3.9M162.55 111.37h3.9M162.55 108.54h3.9M162.55 105.7h3.9M162.55 103.46h3.9M162.55 100.62h3.9M162.55 98.39h3.9M162.55 95.55h3.9M162.55 93.31h3.9M162.55 90.47h3.9M162.55 87.63h3.9M162.55 85.4h3.9M162.55 82.56h3.9M162.55 80.32h3.9M162.55 77.48h3.9M162.55 74.64h3.9M162.55 72.41h3.9M162.55 69.57h3.9M162.55 67.33h3.9M162.55 64.49h3.9M162.55 61.66h3.9M162.55 59.42h3.9M168.95 150.34h3.9M168.95 147.5h3.9M168.95 144.67h3.9M168.95 142.43h3.9M168.95 139.59h3.9M168.95 137.35h3.9M168.95 134.51h3.9M168.95 131.68h3.9M168.95 129.44h3.9M168.95 126.6h3.9M168.95 124.36h3.9M168.95 121.53h3.9M168.95 118.69h3.9M168.95 116.45h3.9M168.95 113.61h3.9M168.95 111.37h3.9M168.95 108.54h3.9M168.95 105.7h3.9M168.95 103.46h3.9M168.95 100.62h3.9M168.95 98.39h3.9M168.95 95.55h3.9M168.95 93.31h3.9M168.95 90.47h3.9M168.95 87.63h3.9M168.95 85.4h3.9M168.95 82.56h3.9M168.95 80.32h3.9M168.95 77.48h3.9M168.95 74.64h3.9M168.95 72.41h3.9M168.95 69.57h3.9M168.95 67.33h3.9M168.95 64.49h3.9M168.95 61.66h3.9M168.95 59.42h3.9M168.95 56.58h3.9M168.95 54.34h3.9M168.95 51.5h3.9M168.95 48.67h3.9M168.95 46.43h3.9M168.95 43.59h3.9M168.95 41.35h3.9M175.35 147.5h3.9M175.35 144.67h3.9M175.35 142.43h3.9M175.35 139.59h3.9M175.35 137.35h3.9M175.35 134.51h3.9M175.35 131.68h3.9M175.35 129.44h3.9M175.35 126.6h3.9M175.35 124.36h3.9M175.35 121.53h3.9M175.35 118.69h3.9M175.35 116.45h3.9M175.35 113.61h3.9M175.35 111.37h3.9M175.35 108.54h3.9M175.35 105.7h3.9M175.35 103.46h3.9M175.35 100.62h3.9M175.35 98.39h3.9M175.35 95.55h3.9M175.35 93.31h3.9M175.35 90.47h3.9M175.35 87.63h3.9M175.35 85.4h3.9M175.35 82.56h3.9M175.35 80.32h3.9M175.35 77.48h3.9M175.35 74.64h3.9M175.35 72.41h3.9M175.35 69.57h3.9M175.35 67.33h3.9M175.35 64.49h3.9M175.35 61.66h3.9M175.35 59.42h3.9M175.35 56.58h3.9M175.35 54.34h3.9M175.35 51.5h3.9M175.35 48.67h3.9M175.35 46.43h3.9M175.35 43.59h3.9M175.35 41.35h3.9M175.35 38.52h3.9M175.35 35.68h3.9M175.35 33.44h3.9M175.35 30.6h3.9M175.35 28.36h3.9M175.35 25.53h3.9M175.35 22.69h3.9M175.35 20.45h3.9M175.35 17.61h3.9M181.75 142.43h3.9M181.75 139.59h3.9M181.75 137.35h3.9M181.75 134.51h3.9M181.75 131.68h3.9M181.75 129.44h3.9M181.75 126.6h3.9M181.75 124.36h3.9M181.75 121.53h3.9M181.75 118.69h3.9M181.75 116.45h3.9M181.75 113.61h3.9M181.75 111.37h3.9M181.75 108.54h3.9M181.75 105.7h3.9M181.75 103.46h3.9M181.75 100.62h3.9M181.75 98.39h3.9M181.75 95.55h3.9M181.75 93.31h3.9M181.75 90.47h3.9M181.75 87.63h3.9M181.75 85.4h3.9M181.75 82.56h3.9M181.75 80.32h3.9M181.75 77.48h3.9M181.75 74.64h3.9M181.75 72.41h3.9M181.75 69.57h3.9M181.75 67.33h3.9M181.75 64.49h3.9M181.75 61.66h3.9M181.75 59.42h3.9M181.75 56.58h3.9M181.75 54.34h3.9M181.75 51.5h3.9M181.75 48.67h3.9M181.75 46.43h3.9M181.75 43.59h3.9M181.75 41.35h3.9M181.75 38.52h3.9M181.75 35.68h3.9M181.75 33.44h3.9M181.75 30.6h3.9M181.75 28.36h3.9M181.75 25.53h3.9M181.75 22.69h3.9M181.75 20.45h3.9M181.75 17.61h3.9M181.75 15.38h3.9M181.75 12.54h3.9M181.75 10.3h3.9M188.15 139.59h3.9M188.15 137.35h3.9M188.15 134.51h3.9M188.15 131.68h3.9M188.15 129.44h3.9M188.15 126.6h3.9M188.15 124.36h3.9M188.15 121.53h3.9M188.15 118.69h3.9M188.15 116.45h3.9M188.15 113.61h3.9M188.15 111.37h3.9M188.15 108.54h3.9M188.15 105.7h3.9M188.15 103.46h3.9M188.15 100.62h3.9M188.15 98.39h3.9M188.15 95.55h3.9M188.15 93.31h3.9M188.15 90.47h3.9M188.15 87.63h3.9M188.15 85.4h3.9M188.15 82.56h3.9M188.15 80.32h3.9M188.15 77.48h3.9M188.15 74.64h3.9M188.15 72.41h3.9M188.15 69.57h3.9M188.15 67.33h3.9M188.15 64.49h3.9M188.15 61.66h3.9M188.15 59.42h3.9M188.15 56.58h3.9M188.15 54.34h3.9M188.15 51.5h3.9M188.15 48.67h3.9M188.15 46.43h3.9M188.15 43.59h3.9M188.15 41.35h3.9M188.15 38.52h3.9M188.15 35.68h3.9M188.15 33.44h3.9M188.15 30.6h3.9M188.15 28.36h3.9M188.15 25.53h3.9M188.15 22.69h3.9M188.15 20.45h3.9M188.15 17.61h3.9M188.15 15.38h3.9M188.15 12.54h3.9M188.15 10.3h3.9M194.55 137.35h3.9M194.55 134.51h3.9M194.55 131.68h3.9M194.55 129.44h3.9M194.55 126.6h3.9M194.55 124.36h3.9M194.55 121.53h3.9M194.55 118.69h3.9M194.55 116.45h3.9M194.55 113.61h3.9M194.55 111.37h3.9M194.55 108.54h3.9M194.55 105.7h3.9M194.55 103.46h3.9M194.55 100.62h3.9M194.55 98.39h3.9M194.55 95.55h3.9M194.55 93.31h3.9M194.55 90.47h3.9M194.55 87.63h3.9M194.55 85.4h3.9M194.55 82.56h3.9M194.55 80.32h3.9M194.55 77.48h3.9M194.55 74.64h3.9M194.55 72.41h3.9M194.55 69.57h3.9M194.55 67.33h3.9M194.55 64.49h3.9M194.55 61.66h3.9M194.55 59.42h3.9M194.55 56.58h3.9M194.55 54.34h3.9M194.55 51.5h3.9M194.55 48.67h3.9M194.55 46.43h3.9M194.55 43.59h3.9M194.55 41.35h3.9M194.55 38.52h3.9M194.55 35.68h3.9M194.55 33.44h3.9M194.55 30.6h3.9M194.55 28.36h3.9M194.55 25.53h3.9M194.55 22.69h3.9M194.55 20.45h3.9M194.55 17.61h3.9M194.55 15.38h3.9M194.55 12.54h3.9M194.55 10.3h3.9M200.95 134.51h3.9M200.95 131.68h3.9M200.95 129.44h3.9M200.95 126.6h3.9M200.95 124.36h3.9M200.95 121.53h3.9M200.95 118.69h3.9M200.95 116.45h3.9M200.95 113.61h3.9M200.95 111.37h3.9M200.95 108.54h3.9M200.95 105.7h3.9M200.95 103.46h3.9M200.95 100.62h3.9M200.95 98.39h3.9M200.95 95.55h3.9M200.95 93.31h3.9M200.95 90.47h3.9M200.95 87.63h3.9M200.95 85.4h3.9M200.95 82.56h3.9M200.95 80.32h3.9M200.95 77.48h3.9M200.95 74.64h3.9M200.95 72.41h3.9M200.95 69.57h3.9M200.95 67.33h3.9M200.95 64.49h3.9M200.95 61.66h3.9M200.95 59.42h3.9M200.95 56.58h3.9M200.95 54.34h3.9M200.95 51.5h3.9M200.95 48.67h3.9M200.95 46.43h3.9M200.95 43.59h3.9M200.95 41.35h3.9M200.95 38.52h3.9M200.95 35.68h3.9M200.95 33.44h3.9M200.95 30.6h3.9M200.95 28.36h3.9M200.95 25.53h3.9M200.95 22.69h3.9M200.95 20.45h3.9M200.95 17.61h3.9M200.95 15.38h3.9M200.95 12.54h3.9M200.95 10.3h3.9M207.35 131.68h3.9M207.35 129.44h3.9M207.35 126.6h3.9M207.35 124.36h3.9M207.35 121.53h3.9M207.35 118.69h3.9M207.35 116.45h3.9M207.35 113.61h3.9M207.35 111.37h3.9M207.35 108.54h3.9M207.35 105.7h3.9M207.35 103.46h3.9M207.35 100.62h3.9M207.35 98.39h3.9M207.35 95.55h3.9M207.35 93.31h3.9M207.35 90.47h3.9M207.35 87.63h3.9M207.35 85.4h3.9M207.35 82.56h3.9M207.35 80.32h3.9M207.35 77.48h3.9M207.35 74.64h3.9M207.35 72.41h3.9M207.35 69.57h3.9M207.35 67.33h3.9M207.35 64.49h3.9M207.35 61.66h3.9M207.35 59.42h3.9M207.35 56.58h3.9M207.35 54.34h3.9M207.35 51.5h3.9M207.35 48.67h3.9M207.35 46.43h3.9M207.35 43.59h3.9M207.35 41.35h3.9M207.35 38.52h3.9M207.35 35.68h3.9M207.35 33.44h3.9M207.35 30.6h3.9M207.35 28.36h3.9M207.35 25.53h3.9M207.35 22.69h3.9M207.35 20.45h3.9M207.35 17.61h3.9M207.35 15.38h3.9M207.35 12.54h3.9M207.35 10.3h3.9M213.75 129.44h3.9M213.75 126.6h3.9M213.75 124.36h3.9M213.75 121.53h3.9M213.75 118.69h3.9M213.75 116.45h3.9M213.75 113.61h3.9M213.75 111.37h3.9M213.75 108.54h3.9M213.75 105.7h3.9M213.75 103.46h3.9M213.75 100.62h3.9M213.75 98.39h3.9M213.75 95.55h3.9M213.75 93.31h3.9M213.75 90.47h3.9M213.75 87.63h3.9M213.75 85.4h3.9M213.75 82.56h3.9M213.75 80.32h3.9M213.75 77.48h3.9M213.75 74.64h3.9M213.75 72.41h3.9M213.75 69.57h3.9M213.75 67.33h3.9M213.75 64.49h3.9M213.75 61.66h3.9M213.75 59.42h3.9M213.75 56.58h3.9M213.75 54.34h3.9M213.75 51.5h3.9M213.75 48.67h3.9M213.75 46.43h3.9M213.75 43.59h3.9M213.75 41.35h3.9M213.75 38.52h3.9M213.75 35.68h3.9M213.75 33.44h3.9M213.75 30.6h3.9M213.75 28.36h3.9M213.75 25.53h3.9M213.75 22.69h3.9M213.75 20.45h3.9M213.75 17.61h3.9M213.75 15.38h3.9M213.75 12.54h3.9M213.75 10.3h3.9M220.15 126.6h3.9M220.15 124.36h3.9M220.15 121.53h3.9M220.15 118.69h3.9M220.15 116.45h3.9M220.15 113.61h3.9M220.15 111.37h3.9M220.15 108.54h3.9M220.15 105.7h3.9M220.15 103.46h3.9M220.15 100.62h3.9M220.15 98.39h3.9M220.15 95.55h3.9M220.15 93.31h3.9M220.15 90.47h3.9M220.15 87.63h3.9M220.15 85.4h3.9M220.15 82.56h3.9M220.15 80.32h3.9M220.15 77.48h3.9M220.15 74.64h3.9M220.15 72.41h3.9M220.15 69.57h3.9M220.15 67.33h3.9M220.15 64.49h3.9M220.15 61.66h3.9M220.15 59.42h3.9M220.15 56.58h3.9M220.15 54.34h3.9M220.15 51.5h3.9M220.15 48.67h3.9M220.15 46.43h3.9M220.15 43.59h3.9M220.15 41.35h3.9M220.15 38.52h3.9M220.15 35.68h3.9M220.15 33.44h3.9M220.15 30.6h3.9M220.15 28.36h3.9M220.15 25.53h3.9M220.15 22.69h3.9M220.15 20.45h3.9M220.15 17.61h3.9M220.15 15.38h3.9M220.15 12.54h3.9M220.15 10.3h3.9M226.55 124.36h3.9M226.55 121.53h3.9M226.55 118.69h3.9M226.55 116.45h3.9M226.55 113.61h3.9M226.55 111.37h3.9M226.55 108.54h3.9M226.55 105.7h3.9M226.55 103.46h3.9M226.55 100.62h3.9M226.55 98.39h3.9M226.55 95.55h3.9M226.55 93.31h3.9M226.55 90.47h3.9M226.55 87.63h3.9M226.55 85.4h3.9M226.55 82.56h3.9M226.55 80.32h3.9M226.55 77.48h3.9M226.55 74.64h3.9M226.55 72.41h3.9M226.55 69.57h3.9M226.55 67.33h3.9M226.55 64.49h3.9M226.55 61.66h3.9M226.55 59.42h3.9M226.55 56.58h3.9M226.55 54.34h3.9M226.55 51.5h3.9M226.55 48.67h3.9M226.55 46.43h3.9M226.55 43.59h3.9M226.55 41.35h3.9M226.55 38.52h3.9M226.55 35.68h3.9M226.55 33.44h3.9M226.55 30.6h3.9M226.55 28.36h3.9M226.55 25.53h3.9M226.55 22.69h3.9M226.55 20.45h3.9M226.55 17.61h3.9M226.55 15.38h3.9M226.55 12.54h3.9M226.55 10.3h3.9M232.95 118.69h3.9M232.95 116.45h3.9M232.95 113.61h3.9M232.95 111.37h3.9M232.95 108.54h3.9M232.95 105.7h3.9M232.95 103.46h3.9M232.95 100.62h3.9M232.95 98.39h3.9M232.95 95.55h3.9M232.95 93.31h3.9M232.95 90.47h3.9M232.95 87.63h3.9M232.95 85.4h3.9M232.95 82.56h3.9M232.95 80.32h3.9M232.95 77.48h3.9M232.95 74.64h3.9M232.95 72.41h3.9M232.95 69.57h3.9M232.95 67.33h3.9M232.95 64.49h3.9M232.95 61.66h3.9M232.95 59.42h3.9M232.95 56.58h3.9M232.95 54.34h3.9M232.95 51.5h3.9M232.95 48.67h3.9M232.95 46.43h3.9M232.95 43.59h3.9M232.95 41.35h3.9M232.95 38.52h3.9M232.95 35.68h3.9M232.95 33.44h3.9M232.95 30.6h3.9M232.95 28.36h3.9M232.95 25.53h3.9M232.95 22.69h3.9M232.95 20.45h3.9M232.95 17.61h3.9M232.95 15.38h3.9M232.95 12.54h3.9M232.95 10.3h3.9M239.35 116.45h3.9M239.35 113.61h3.9M239.35 111.37h3.9M239.35 108.54h3.9M239.35 105.7h3.9M239.35 103.46h3.9M239.35 100.62h3.9M239.35 98.39h3.9M239.35 95.55h3.9M239.35 93.31h3.9M239.35 90.47h3.9M239.35 87.63h3.9M239.35 85.4h3.9M239.35 82.56h3.9M239.35 80.32h3.9M239.35 77.48h3.9M239.35 74.64h3.9M239.35 72.41h3.9M239.35 69.57h3.9M239.35 67.33h3.9M239.35 64.49h3.9M239.35 61.66h3.9M239.35 59.42h3.9M239.35 56.58h3.9M239.35 54.34h3.9M239.35 51.5h3.9M239.35 48.67h3.9M239.35 46.43h3.9M239.35 43.59h3.9M239.35 41.35h3.9M239.35 38.52h3.9M239.35 35.68h3.9M239.35 33.44h3.9M239.35 30.6h3.9M239.35 28.36h3.9M239.35 25.53h3.9M239.35 22.69h3.9M239.35 20.45h3.9M239.35 17.61h3.9M239.35 15.38h3.9M239.35 12.54h3.9M239.35 10.3h3.9M245.75 113.61h3.9M245.75 111.37h3.9M245.75 108.54h3.9M245.75 105.7h3.9M245.75 103.46h3.9M245.75 100.62h3.9M245.75 98.39h3.9M245.75 95.55h3.9M245.75 93.31h3.9M245.75 90.47h3.9M245.75 87.63h3.9M245.75 85.4h3.9M245.75 82.56h3.9M245.75 80.32h3.9M245.75 77.48h3.9M245.75 74.64h3.9M245.75 72.41h3.9M245.75 69.57h3.9M245.75 67.33h3.9M245.75 64.49h3.9M245.75 61.66h3.9M245.75 59.42h3.9M245.75 56.58h3.9M245.75 54.34h3.9M245.75 51.5h3.9M245.75 48.67h3.9M245.75 46.43h3.9M245.75 43.59h3.9M245.75 41.35h3.9M245.75 38.52h3.9M245.75 35.68h3.9M245.75 33.44h3.9M245.75 30.6h3.9M245.75 28.36h3.9M245.75 25.53h3.9M245.75 22.69h3.9M245.75 20.45h3.9M245.75 17.61h3.9M245.75 15.38h3.9M245.75 12.54h3.9M245.75 10.3h3.9M252.15 111.37h3.9M252.15 108.54h3.9M252.15 105.7h3.9M252.15 103.46h3.9M252.15 100.62h3.9M252.15 98.39h3.9M252.15 95.55h3.9M252.15 93.31h3.9M252.15 90.47h3.9M252.15 87.63h3.9M252.15 85.4h3.9M252.15 82.56h3.9M252.15 80.32h3.9M252.15 77.48h3.9M252.15 74.64h3.9M252.15 72.41h3.9M252.15 69.57h3.9M252.15 67.33h3.9M252.15 64.49h3.9M252.15 61.66h3.9M252.15 59.42h3.9M252.15 56.58h3.9M252.15 54.34h3.9M252.15 51.5h3.9M252.15 48.67h3.9M252.15 46.43h3.9M252.15 43.59h3.9M252.15 41.35h3.9M252.15 38.52h3.9M252.15 35.68h3.9M252.15 33.44h3.9M252.15 30.6h3.9M252.15 28.36h3.9M252.15 25.53h3.9M252.15 22.69h3.9M252.15 20.45h3.9M252.15 17.61h3.9M252.15 15.38h3.9M252.15 12.54h3.9M252.15 10.3h3.9M258.55 108.54h3.9M258.55 105.7h3.9M258.55 103.46h3.9M258.55 100.62h3.9M258.55 98.39h3.9M258.55 95.55h3.9M258.55 93.31h3.9M258.55 90.47h3.9M258.55 87.63h3.9M258.55 85.4h3.9M258.55 82.56h3.9M258.55 80.32h3.9M258.55 77.48h3.9M258.55 74.64h3.9M258.55 72.41h3.9M258.55 69.57h3.9M258.55 67.33h3.9M258.55 64.49h3.9M258.55 61.66h3.9M258.55 59.42h3.9M258.55 56.58h3.9M258.55 54.34h3.9M258.55 51.5h3.9M258.55 48.67h3.9M258.55 46.43h3.9M258.55 43.59h3.9M258.55 41.35h3.9M258.55 38.52h3.9M258.55 35.68h3.9M258.55 33.44h3.9M258.55 30.6h3.9M258.55 28.36h3.9M258.55 25.53h3.9M258.55 22.69h3.9M258.55 20.45h3.9M258.55 17.61h3.9M258.55 15.38h3.9M258.55 12.54h3.9M258.55 10.3h3.9M264.95 103.46h3.9M264.95 100.62h3.9M264.95 98.39h3.9M264.95 95.55h3.9M264.95 93.31h3.9M264.95 90.47h3.9M264.95 87.63h3.9M264.95 85.4h3.9M264.95 82.56h3.9M264.95 80.32h3.9M264.95 77.48h3.9M264.95 74.64h3.9M264.95 72.41h3.9M264.95 69.57h3.9M264.95 67.33h3.9M264.95 64.49h3.9M264.95 61.66h3.9M264.95 59.42h3.9M264.95 56.58h3.9M264.95 54.34h3.9M264.95 51.5h3.9M264.95 48.67h3.9M264.95 46.43h3.9M264.95 43.59h3.9M264.95 41.35h3.9M264.95 38.52h3.9M264.95 35.68h3.9M264.95 33.44h3.9M264.95 30.6h3.9M264.95 28.36h3.9M264.95 25.53h3.9M264.95 22.69h3.9M264.95 20.45h3.9M264.95 17.61h3.9M264.95 15.38h3.9M264.95 12.54h3.9M264.95 10.3h3.9M271.35 100.62h3.9M271.35 98.39h3.9M271.35 95.55h3.9M271.35 93.31h3.9M271.35 90.47h3.9M271.35 87.63h3.9M271.35 85.4h3.9M271.35 82.56h3.9M271.35 80.32h3.9M271.35 77.48h3.9M271.35 74.64h3.9M271.35 72.41h3.9M271.35 69.57h3.9M271.35 67.33h3.9M271.35 64.49h3.9M271.35 61.66h3.9M271.35 59.42h3.9M271.35 56.58h3.9M271.35 54.34h3.9M271.35 51.5h3.9M271.35 48.67h3.9M271.35 46.43h3.9M271.35 43.59h3.9M271.35 41.35h3.9M271.35 38.52h3.9M271.35 35.68h3.9M271.35 33.44h3.9M271.35 30.6h3.9M271.35 28.36h3.9M271.35 25.53h3.9M271.35 22.69h3.9M271.35 20.45h3.9M271.35 17.61h3.9M271.35 15.38h3.9M271.35 12.54h3.9M271.35 10.3h3.9M277.75 95.55h3.9M277.75 93.31h3.9M277.75 90.47h3.9M277.75 87.63h3.9M277.75 85.4h3.9M277.75 82.56h3.9M277.75 80.32h3.9M277.75 77.48h3.9M277.75 74.64h3.9M277.75 72.41h3.9M277.75 69.57h3.9M277.75 67.33h3.9M277.75 64.49h3.9M277.75 61.66h3.9M277.75 59.42h3.9M277.75 56.58h3.9M277.75 54.34h3.9M277.75 51.5h3.9M277.75 48.67h3.9M277.75 46.43h3.9M277.75 43.59h3.9M277.75 41.35h3.9M277.75 38.52h3.9M277.75 35.68h3.9M277.75 33.44h3.9M277.75 30.6h3.9M277.75 28.36h3.9M277.75 25.53h3.9M277.75 22.69h3.9M277.75 20.45h3.9M277.75 17.61h3.9M277.75 15.38h3.9M277.75 12.54h3.9M277.75 10.3h3.9M284.15 93.31h3.9M284.15 90.47h3.9M284.15 87.63h3.9M284.15 85.4h3.9M284.15 82.56h3.9M284.15 80.32h3.9M284.15 77.48h3.9M284.15 74.64h3.9M284.15 72.41h3.9M284.15 69.57h3.9M284.15 67.33h3.9M284.15 64.49h3.9M284.15 61.66h3.9M284.15 59.42h3.9M284.15 56.58h3.9M284.15 54.34h3.9M284.15 51.5h3.9M284.15 48.67h3.9M284.15 46.43h3.9M284.15 43.59h3.9M284.15 41.35h3.9M284.15 38.52h3.9M284.15 35.68h3.9M284.15 33.44h3.9M284.15 30.6h3.9M284.15 28.36h3.9M284.15 25.53h3.9M284.15 22.69h3.9M284.15 20.45h3.9M284.15 17.61h3.9M284.15 15.38h3.9M284.15 12.54h3.9M284.15 10.3h3.9M290.55 87.63h3.9M290.55 85.4h3.9M290.55 82.56h3.9M290.55 80.32h3.9M290.55 77.48h3.9M290.55 74.64h3.9M290.55 72.41h3.9M290.55 69.57h3.9M290.55 67.33h3.9M290.55 64.49h3.9M290.55 61.66h3.9M290.55 59.42h3.9M290.55 56.58h3.9M290.55 54.34h3.9M290.55 51.5h3.9M290.55 48.67h3.9M290.55 46.43h3.9M290.55 43.59h3.9M290.55 41.35h3.9M290.55 38.52h3.9M290.55 35.68h3.9M290.55 33.44h3.9M290.55 30.6h3.9M290.55 28.36h3.9M290.55 25.53h3.9M290.55 22.69h3.9M290.55 20.45h3.9M290.55 17.61h3.9M290.55 15.38h3.9M290.55 12.54h3.9M290.55 10.3h3.9M296.95 85.4h3.9M296.95 82.56h3.9M296.95 80.32h3.9M296.95 77.48h3.9M296.95 74.64h3.9M296.95 72.41h3.9M296.95 69.57h3.9M296.95 67.33h3.9M296.95 64.49h3.9M296.95 61.66h3.9M296.95 59.42h3.9M296.95 56.58h3.9M296.95 54.34h3.9M296.95 51.5h3.9M296.95 48.67h3.9M296.95 46.43h3.9M296.95 43.59h3.9M296.95 41.35h3.9M296.95 38.52h3.9M296.95 35.68h3.9M296.95 33.44h3.9M296.95 30.6h3.9M296.95 28.36h3.9M296.95 25.53h3.9M296.95 22.69h3.9M296.95 20.45h3.9M296.95 17.61h3.9M296.95 15.38h3.9M296.95 12.54h3.9M296.95 10.3h3.9M303.35 80.32h3.9M303.35 77.48h3.9M303.35 74.64h3.9M303.35 72.41h3.9M303.35 69.57h3.9M303.35 67.33h3.9M303.35 64.49h3.9M303.35 61.66h3.9M303.35 59.42h3.9M303.35 56.58h3.9M303.35 54.34h3.9M303.35 51.5h3.9M303.35 48.67h3.9M303.35 46.43h3.9M303.35 43.59h3.9M303.35 41.35h3.9M303.35 38.52h3.9M303.35 35.68h3.9M303.35 33.44h3.9M303.35 30.6h3.9M303.35 28.36h3.9M303.35 25.53h3.9M303.35 22.69h3.9M303.35 20.45h3.9M303.35 17.61h3.9M303.35 15.38h3.9M303.35 12.54h3.9M303.35 10.3h3.9M309.75 77.48h3.9M309.75 74.64h3.9M309.75 72.41h3.9M309.75 69.57h3.9M309.75 67.33h3.9M309.75 64.49h3.9M309.75 61.66h3.9M309.75 59.42h3.9M309.75 56.58h3.9M309.75 54.34h3.9M309.75 51.5h3.9M309.75 48.67h3.9M309.75 46.43h3.9M309.75 43.59h3.9M309.75 41.35h3.9M309.75 38.52h3.9M309.75 35.68h3.9M309.75 33.44h3.9M309.75 30.6h3.9M309.75 28.36h3.9M309.75 25.53h3.9M309.75 22.69h3.9M309.75 20.45h3.9M309.75 17.61h3.9M309.75 15.38h3.9M309.75 12.54h3.9M309.75 10.3h3.9M316.15 72.41h3.9M316.15 69.57h3.9M316.15 67.33h3.9M316.15 64.49h3.9M316.15 61.66h3.9M316.15 59.42h3.9M316.15 56.58h3.9M316.15 54.34h3.9M316.15 51.5h3.9M316.15 48.67h3.9M316.15 46.43h3.9M316.15 43.59h3.9M316.15 41.35h3.9M316.15 38.52h3.9M316.15 35.68h3.9M316.15 33.44h3.9M316.15 30.6h3.9M316.15 28.36h3.9M316.15 25.53h3.9M316.15 22.69h3.9M316.15 20.45h3.9M316.15 17.61h3.9M316.15 15.38h3.9M316.15 12.54h3.9M316.15 10.3h3.9M322.55 67.33h3.9M322.55 64.49h3.9M322.55 61.66h3.9M322.55 59.42h3.9M322.55 56.58h3.9M322.55 54.34h3.9M322.55 51.5h3.9M322.55 48.67h3.9M322.55 46.43h3.9M322.55 43.59h3.9M322.55 41.35h3.9M322.55 38.52h3.9M322.55 35.68h3.9M322.55 33.44h3.9M322.55 30.6h3.9M322.55 28.36h3.9M322.55 25.53h3.9M322.55 22.69h3.9M322.55 20.45h3.9M322.55 17.61h3.9M322.55 15.38h3.9M322.55 12.54h3.9M322.55 10.3h3.9M328.95 61.66h3.9M328.95 59.42h3.9M328.95 56.58h3.9M328.95 54.34h3.9M328.95 51.5h3.9M328.95 48.67h3.9M328.95 46.43h3.9M328.95 43.59h3.9M328.95 41.35h3.9M328.95 38.52h3.9M328.95 35.68h3.9M328.95 33.44h3.9M328.95 30.6h3.9M328.95 28.36h3.9M328.95 25.53h3.9M328.95 22.69h3.9M328.95 20.45h3.9M328.95 17.61h3.9M328.95 15.38h3.9M328.95 12.54h3.9M328.95 10.3h3.9M335.35 56.58h3.9M335.35 54.34h3.9M335.35 51.5h3.9M335.35 48.67h3.9M335.35 46.43h3.9M335.35 43.59h3.9M335.35 41.35h3.9M335.35 38.52h3.9M335.35 35.68h3.9M335.35 33.44h3.9M335.35 30.6h3.9M335.35 28.36h3.9M335.35 25.53h3.9M335.35 22.69h3.9M335.35 20.45h3.9M335.35 17.61h3.9M335.35 15.38h3.9M335.35 12.54h3.9M335.35 10.3h3.9M341.75 51.5h3.9M341.75 48.67h3.9M341.75 46.43h3.9M341.75 43.59h3.9M341.75 41.35h3.9M341.75 38.52h3.9M341.75 35.68h3.9M341.75 33.44h3.9M341.75 30.6h3.9M341.75 28.36h3.9M341.75 25.53h3.9M341.75 22.69h3.9M341.75 20.45h3.9M341.75 17.61h3.9M341.75 15.38h3.9M341.75 12.54h3.9M341.75 10.3h3.9M348.15 46.43h3.9M348.15 43.59h3.9M348.15 41.35h3.9M348.15 38.52h3.9M348.15 35.68h3.9M348.15 33.44h3.9M348.15 30.6h3.9M348.15 28.36h3.9M348.15 25.53h3.9M348.15 22.69h3.9M348.15 20.45h3.9M348.15 17.61h3.9M348.15 15.38h3.9M348.15 12.54h3.9M348.15 10.3h3.9M354.55 38.52h3.9M354.55 35.68h3.9M354.55 33.44h3.9M354.55 30.6h3.9M354.55 28.36h3.9M354.55 25.53h3.9M354.55 22.69h3.9M354.55 20.45h3.9M354.55 17.61h3.9M354.55 15.38h3.9M354.55 12.54h3.9M354.55 10.3h3.9M360.95 30.6h3.9M360.95 28.36h3.9M360.95 25.53h3.9M360.95 22.69h3.9M360.95 20.45h3.9M360.95 17.61h3.9M360.95 15.38h3.9M360.95 12.54h3.9M360.95 10.3h3.9M367.35 22.69h3.9M367.35 20.45h3.9M367.35 17.61h3.9M367.35 15.38h3.9M367.35 12.54h3.9M367.35 10.3h3.9M373.75 15.38h3.9M373.75 12.54h3.9M373.75 10.3h3.9"/>
<path stroke="#00ff00" stroke-width="0.68" d="M47.3 262.26l4 4M47.3 266.26l4-4M47.3 259.67l4 4M47.3 263.67l4-4M47.3 257.07l4 4M47.3 261.07l4-4M47.3 254.48l4 4M47.3 258.48l4-4M47.3 251.88l4 4M47.3 255.88l4-4M47.3 249.29l4 4M47.3 253.29l4-4M47.3 246.69l4 4M47.3 250.69l4-4M47.3 244.1l4 4M47.3 248.1l4-4M47.3 241.5l4 4M47.3 245.5l4-4M47.3 238.91l4 4M47.3 242.91l4-4M47.3 236.32l4 4M47.3 240.32l4-4M47.3 233.72l4 4M47.3 237.72l4-4M53.7 259.67l4 4M53.7 263.67l4-4M53.7 257.07l4 4M53.7 261.07l4-4M53.7 254.48l4 4M53.7 258.48l4-4M53.7 251.88l4 4M53.7 255.88l4-4M53.7 249.29l4 4M53.7 253.29l4-4M53.7 246.69l4 4M53.7 250.69l4-4M53.7 244.1l4 4M53.7 248.1l4-4M53.7 241.5l4 4M53.7 245.5l4-4M53.7 238.91l4 4M53.7 242.91l4-4M53.7 236.32l4 4M53.7 240.32l4-4M53.7 233.72l4 4M53.7 237.72l4-4M53.7 231.13l4 4M53.7 235.13l4-4M53.7 228.53l4 4M53.7 232.53l4-4M53.7 225.94l4 4M53.7 229.94l4-4M60.1 257.07l4 4M60.1 261.07l4-4M60.1 254.48l4 4M60.1 258.48l4-4M60.1 251.88l4 4M60.1 255.88l4-4M60.1 249.29l4 4M60.1 253.29l4-4M60.1 246.69l4 4M60.1 250.69l4-4M60.1 244.1l4 4M60.1 248.1l4-4M60.1 241.5l4 4M60.1 245.5l4-4M60.1 238.91l4 4M60.1 242.91l4-4M60.1 236.32l4 4M60.1 240.32l4-4M60.1 233.72l4 4M60.1 237.72l4-4M60.1 231.13l4 4M60.1 235.13l4-4M60.1 228.53l4 4M60.1 232.53l4-4M60.1 225.94l4 4M60.1 229.94l4-4M60.1 223.34l4 4M60.1 227.34l4-4M60.1 220.75l4 4M60.1 224.75l4-4M60.1 218.15l4 4M60.1 222.15l4-4M66.5 254.48l4 4M66.5 258.48l4-4M66.5 251.88l4 4M66.5 255.88l4-4M66.5 249.29l4 4M66.5 253.29l4-4M66.5 246.69l4 4M66.5 250.69l4-4M66.5 244.1l4 4M66.5 248.1l4-4M66.5 241.5l4 4M66.5 245.5l4-4M66.5 238.91l4 4M66.5 242.91l4-4M66.5 236.32l4 4M66.5 240.32l4-4M66.5 233.72l4 4M66.5 237.72l4-4M66.5 231.13l4 4M66.5 235.13l4-4M66.5 228.53l4 4M66.5 232.53l4-4M66.5 225.94l4 4M66.5 229.94l4-4M66.5 223.34l4 4M66.5 227.34l4-4M66.5 220.75l4 4M66.5 224.75l4-4M66.5 218.15l4 4M66.5 222.15l4-4M66.5 215.56l4 4M66.5 219.56l4-4M66.5 212.97l4 4M66.5 216.97l4-4M72.9 251.88l4 4M72.9 255.88l4-4M72.9 249.29l4 4M72.9 253.29l4-4M72.9 246.69l4 4M72.9 250.69l4-4M72.9 244.1l4 4M72.9 248.1l4-4M72.9 241.5l4 4M72.9 245.5l4-4M72.9 238.91l4 4M72.9 242.91l4-4M72.9 236.32l4 4M72.9 240.32l4-4M72.9 233.72l4 4M72.9 237.72l4-4M72.9 231.13l4 4M72.9 235.13l4-4M72.9 228.53l4 4M72.9 232.53l4-4M72.9 225.94l4 4M72.9 229.94l4-4M72.9 223.34l4 4M72.9 227.34l4-4M72.9 220.75l4 4M72.9 224.75l4-4M72.9 218.15l4 4M72.9 222.15l4-4M72.9 215.56l4 4M72.9 219.56l4-4M72.9 212.97l4 4M72.9 216.97l4-4M72.9 210.37l4 4M72.9 214.37l4-4M72.9 207.78l4 4M72.9 211.78l4-4M79.3 249.29l4 4M79.3 253.29l4-4M79.3 246.69l4 4M79.3 250.69l4-4M79.3 244.1l4 4M79.3 248.1l4-4M79.3 241.5l4 4M79.3 245.5l4-4M79.3 238.91l4 4M79.3 242.91l4-4M79.3 236.32l4 4M79.3 240.32l4-4M79.3 233.72l4 4M79.3 237.72l4-4M79.3 231.13l4 4M79.3 235.13l4-4M79.3 228.53l4 4M79.3 232.53l4-4M79.3 225.94l4 4M79.3 229.94l4-4M79.3 223.34l4 4M79.3 227.34l4-4M79.3 220.75l4 4M79.3 224.75l4-4M79.3 218.15l4 4M79.3 222.15l4-4M79.3 215.56l4 4M79.3 219.56l4-4M79.3 212.97l4 4M79.3 216.97l4-4M79.3 210.37l4 4M79.3 214.37l4-4M79.3 207.78l4 4M79.3 211.78l4-4M79.3 205.18l4 4M79.3 209.18l4-4M79.3 202.59l4 4M79.3 206.59l4-4M85.7 246.69l4 4M85.7 250.69l4-4M85.7 244.1l4 4M85.7 248.1l4-4M85.7 241.5l4 4M85.7 245.5l4-4M85.7 238.91l4 4M85.7 242.91l4-4M85.7 236.32l4 4M85.7 240.32l4-4M85.7 233.72l4 4M85.7 237.72l4-4M85.7 231.13l4 4M85.7 235.13l4-4M85.7 228.53l4 4M85.7 232.53l4-4M85.7 225.94l4 4M85.7 229.94l4-4M85.7 223.34l4 4M85.7 227.34l4-4M85.7 220.75l4 4M85.7 224.75l4-4M85.7 218.15l4 4M85.7 222.15l4-4M85.7 215.56l4 4M85.7 219.56l4-4M85.7 212.97l4 4M85.7 216.97l4-4M85.7 210.37l4 4M85.7 214.37l4-4M85.7 207.78l4 4M85.7 211.78l4-4M85.7 205.18l4 4M85.7 209.18l4-4M85.7 202.59l4 4M85.7 206.59l4-4M85.7 199.99l4 4M85.7 203.99l4-4M85.7 197.4l4 4M85.7 201.4l4-4M92.1 244.1l4 4M92.1 248.1l4-4M92.1 241.5l4 4M92.1 245.5l4-4M92.1 238.91l4 4M92.1 242.91l4-4M92.1 236.32l4 4M92.1 240.32l4-4M92.1 233.72l4 4M92.1 237.72l4-4M92.1 231.13l4 4M92.1 235.13l4-4M92.1 228.53l4 4M92.1 232.53l4-4M92.1 225.94l4 4M92.1 229.94l4-4M92.1 223.34l4 4M92.1 227.34l4-4M92.1 220.75l4 4M92.1 224.75l4-4M92.1 218.15l4 4M92.1 222.15l4-4M92.1 215.56l4 4M92.1 219.56l4-4M92.1 212.97l4 4M92.1 216.97l4-4M92.1 210.37l4 4M92.1 214.37l4-4M92.1 207.78l4 4M92.1 211.78l4-4M92.1 205.18l4 4M92.1 209.18l4-4M92.1 202.59l4 4M92.1 206.59l4-4M92.1 199.99l4 4M92.1 203.99l4-4M92.1 197.4l4 4M92.1 201.4l4-4M92.1 194.8l4 4M92.1 198.8l4-4M98.5 241.5l4 4M98.5 245.5l4-4M98.5 238.91l4 4M98.5 242.91l4-4M98.5 236.32l4 4M98.5 240.32l4-4M98.5 233.72l4 4M98.5 237.72l4-4M98.5 231.13l4 4M98.5 235.13l4-4M98.5 228.53l4 4M98.5 232.53l4-4M98.5 225.94l4 4M98.5 229.94l4-4M98.5 223.34l4 4M98.5 227.34l4-4M98.5 220.75l4 4M98.5 224.75l4-4M98.5 218.15l4 4M98.5 222.15l4-4M98.5 215.56l4 4M98.5 219.56l4-4M98.5 212.97l4 4M98.5 216.97l4-4M98.5 210.37l4 4M98.5 214.37l4-4M98.5 207.78l4 4M98.5 211.78l4-4M98.5 205.18l4 4M98.5 209.18l4-4M98.5 202.59l4 4M98.5 206.59l4-4M98.5 199.99l4 4M98.5 203.99l4-4M98.5 197.4l4 4M98.5 201.4l4-4M98.5 194.8l4 4M98.5 198.8l4-4M98.5 192.21l4 4M98.5 196.21l4-4M98.5 189.61l4 4M98.5 193.61l4-4M104.9 238.91l4 4M104.9 242.91l4-4M104.9 236.32l4 4M104.9 240.32l4-4M104.9 233.72l4 4M104.9 237.72l4-4M104.9 231.13l4 4M104.9 235.13l4-4M104.9 228.53l4 4M104.9 232.53l4-4M104.9 225.94l4 4M104.9 229.94l4-4M104.9 223.34l4 4M104.9 227.34l4-4M104.9 220.75l4 4M104.9 224.75l4-4M104.9 218.15l4 4M104.9 222.15l4-4M104.9 215.56l4 4M104.9 219.56l4-4M104.9 212.97l4 4M104.9 216.97l4-4M104.9 210.37l4 4M104.9 214.37l4-4M104.9 207.78l4 4M104.9 211.78l4-4M104.9 205.18l4 4M104.9 209.18l4-4M104.9 202.59l4 4M104.9 206.59l4-4M104.9 199.99l4 4M104.9 203.99l4-4M104.9 197.4l4 4M104.9 201.4l4-4M104.9 194.8l4 4M104.9 198.8l4-4M104.9 192.21l4 4M104.9 196.21l4-4M104.9 189.61l4 4M104.9 193.61l4-4M104.9 187.02l4 4M104.9 191.02l4-4M104.9 184.43l4 4M104.9 188.43l4-4M111.3 236.32l4 4M111.3 240.32l4-4M111.3 233.72l4 4M111.3 237.72l4-4M111.3 231.13l4 4M111.3 235.13l4-4M111.3 228.53l4 4M111.3 232.53l4-4M111.3 225.94l4 4M111.3 229.94l4-4M111.3 223.34l4 4M111.3 227.34l4-4M111.3 220.75l4 4M111.3 224.75l4-4M111.3 218.15l4 4M111.3 222.15l4-4M111.3 215.56l4 4M111.3 219.56l4-4M111.3 212.97l4 4M111.3 216.97l4-4M111.3 210.37l4 4M111.3 214.37l4-4M111.3 207.78l4 4M111.3 211.78l4-4M111.3 205.18l4 4M111.3 209.18l4-4M111.3 202.59l4 4M111.3 206.59l4-4M111.3 199.99l4 4M111.3 203.99l4-4M111.3 197.4l4 4M111.3 201.4l4-4M111.3 194.8l4 4M111.3 198.8l4-4M111.3 192.21l4 4M111.3 196.21l4-4M111.3 189.61l4 4M111.3 193.61l4-4M111.3 187.02l4 4M111.3 191.02l4-4M111.3 184.43l4 4M111.3 188.43l4-4M111.3 181.83l4 4M111.3 185.83l4-4M117.7 233.72l4 4M117.7 237.72l4-4M117.7 231.13l4 4M117.7 235.13l4-4M117.7 228.53l4 4M117.7 232.53l4-4M117.7 225.94l4 4M117.7 229.94l4-4M117.7 223.34l4 4M117.7 227.34l4-4M117.7 220.75l4 4M117.7 224.75l4-4M117.7 218.15l4 4M117.7 222.15l4-4M117.7 215.56l4 4M117.7 219.56l4-4M117.7 212.97l4 4M117.7 216.97l4-4M117.7 210.37l4 4M117.7 214.37l4-4M117.7 207.78l4 4M117.7 211.78l4-4M117.7 205.18l4 4M117.7 209.18l4-4M117.7 202.59l4 4M117.7 206.59l4-4M117.7 199.99l4 4M117.7 203.99l4-4M117.7 197.4l4 4M117.7 201.4l4-4M117.7 194.8l4 4M117.7 198.8l4-4M117.7 192.21l4 4M117.7 196.21l4-4M117.7 189.61l4 4M117.7 193.61l4-4M117.7 187.02l4 4M117.7 191.02l4-4M117.7 184.43l4 4M117.7 188.43l4-4M117.7 181.83l4 4M117.7 185.83l4-4M117.7 179.24l4 4M117.7 183.24l4-4M124.1 231.13l4 4M124.1 235.13l4-4M124.1 228.53l4 4M124.1 232.53l4-4M124.1 225.94l4 4M124.1 229.94l4-4M124.1 223.34l4 4M124.1 227.34l4-4M124.1 220.75l4 4M124.1 224.75l4-4M124.1 218.15l4 4M124.1 222.15l4-4M124.1 215.56l4 4M124.1 219.56l4-4M124.1 212.97l4 4M124.1 216.97l4-4M124.1 210.37l4 4M124.1 214.37l4-4M124.1 207.78l4 4M124.1 211.78l4-4M124.1 205.18l4 4M124.1 209.18l4-4M124.1 202.59l4 4M124.1 206.59l4-4M124.1 199.99l4 4M124.1 203.99l4-4M124.1 197.4l4 4M124.1 201.4l4-4M124.1 194.8l4 4M124.1 198.8l4-4M124.1 192.21l4 4M124.1 196.21l4-4M124.1 189.61l4 4M124.1 193.61l4-4M124.1 187.02l4 4M124.1 191.02l4-4M124.1 184.43l4 4M124.1 188.43l4-4M124.1 181.83l4 4M124.1 185.83l4-4M124.1 179.24l4 4M124.1 183.24l4-4M124.1 176.64l4 4M124.1 180.64l4-4M124.1 174.05l4 4M124.1 178.05l4-4M130.5 228.53l4 4M130.5 232.53l4-4M130.5 225.94l4 4M130.5 229.94l4-4M130.5 223.34l4 4M130.5 227.34l4-4M130.5 220.75l4 4M130.5 224.75l4-4M130.5 218.15l4 4M130.5 222.15l4-4M130.5 215.56l4 4M130.5 219.56l4-4M130.5 212.97l4 4M130.5 216.97l4-4M130.5 210.37l4 4M130.5 214.37l4-4M130.5 207.78l4 4M130.5 211.78l4-4M130.5 205.18l4 4M130.5 209.18l4-4M130.5 202.59l4 4M130.5 206.59l4-4M130.5 199.99l4 4M130.5 203.99l4-4M130.5 197.4l4 4M130.5 201.4l4-4M130.5 194.8l4 4M130.5 198.8l4-4M130.5 192.21l4 4M130.5 196.21l4-4M130.5 189.61l4 4M130.5 193.61l4-4M130.5 187.02l4 4M130.5 191.02l4-4M130.5 184.43l4 4M130.5 188.43l4-4M130.5 181.83l4 4M130.5 185.83l4-4M130.5 179.24l4 4M130.5 183.24l4-4M130.5 176.64l4 4M130.5 180.64l4-4M130.5 174.05l4 4M130.5 178.05l4-4M130.5 171.45l4 4M130.5 175.45l4-4M130.5 168.86l4 4M130.5 172.86l4-4M136.9 225.94l4 4M136.9 229.94l4-4M136.9 223.34l4 4M136.9 227.34l4-4M136.9 220.75l4 4M136.9 224.75l4-4M136.9 218.15l4 4M136.9 222.15l4-4M136.9 215.56l4 4M136.9 219.56l4-4M136.9 212.97l4 4M136.9 216.97l4-4M136.9 210.37l4 4M136.9 214.37l4-4M136.9 207.78l4 4M136.9 211.78l4-4M136.9 205.18l4 4M136.9 209.18l4-4M136.9 202.59l4 4M136.9 206.59l4-4M136.9 199.99l4 4M136.9 203.99l4-4M136.9 197.4l4 4M136.9 201.4l4-4M136.9 194.8l4 4M136.9 198.8l4-4M136.9 192.21l4 4M136.9 196.21l4-4M136.9 189.61l4 4M136.9 193.61l4-4M136.9 187.02l4 4M136.9 191.02l4-4M136.9 184.43l4 4M136.9 188.43l4-4M136.9 181.83l4 4M136.9 185.83l4-4M136.9 179.24l4 4M136.9 183.24l4-4M136.9 176.64l4 4M136.9 180.64l4-4M136.9 174.05l4 4M136.9 178.05l4-4M136.9 171.45l4 4M136.9 175.45l4-4M136.9 168.86l4 4M136.9 172.86l4-4M136.9 166.26l4 4M136.9 170.26l4-4M143.3 223.34l4 4M143.3 227.34l4-4M143.3 220.75l4 4M143.3 224.75l4-4M143.3 218.15l4 4M143.3 222.15l4-4M143.3 215.56l4 4M143.3 219.56l4-4M143.3 212.97l4 4M143.3 216.97l4-4M143.3 210.37l4 4M143.3 214.37l4-4M143.3 207.78l4 4M143.3 211.78l4-4M143.3 205.18l4 4M143.3 209.18l4-4M143.3 202.59l4 4M143.3 206.59l4-4M143.3 199.99l4 4M143.3 203.99l4-4M143.3 197.4l4 4M143.3 201.4l4-4M143.3 194.8l4 4M143.3 198.8l4-4M143.3 192.21l4 4M143.3 196.21l4-4M143.3 189.61l4 4M143.3 193.61l4-4M143.3 187.02l4 4M143.3 191.02l4-4M143.3 184.43l4 4M143.3 188.43l4-4M143.3 181.83l4 4M143.3 185.83l4-4M143.3 179.24l4 4M143.3 183.24l4-4M143.3 176.64l4 4M143.3 180.64l4-4M143.3 174.05l4 4M143.3 178.05l4-4M143.3 171.45l4 4M143.3 175.45l4-4M143.3 168.86l4 4M143.3 172.86l4-4M143.3 166.26l4 4M143.3 170.26l4-4M143.3 163.67l4 4M143.3 167.67l4-4M149.7 220.75l4 4M149.7 224.75l4-4M149.7 218.15l4 4M149.7 222.15l4-4M149.7 215.56l4 4M149.7 219.56l4-4M149.7 212.97l4 4M149.7 216.97l4-4M149.7 210.37l4 4M149.7 214.37l4-4M149.7 207.78l4 4M149.7 211.78l4-4M149.7 205.18l4 4M149.7 209.18l4-4M149.7 202.59l4 4M149.7 206.59l4-4M149.7 199.99l4 4M149.7 203.99l4-4M149.7 197.4l4 4M149.7 201.4l4-4M149.7 194.8l4 4M149.7 198.8l4-4M149.7 192.21l4 4M149.7 196.21l4-4M149.7 189.61l4 4M149.7 193.61l4-4M149.7 187.02l4 4M149.7 191.02l4-4M149.7 184.43l4 4M149.7 188.43l4-4M149.7 181.83l4 4M149.7 185.83l4-4M149.7 179.24l4 4M149.7 183.24l4-4M149.7 176.64l4 4M149.7 180.64l4-4M149.7 174.05l4 4M149.7 178.05l4-4M149.7 171.45l4 4M149.7 175.45l4-4M149.7 168.86l4 4M149.7 172.86l4-4M149.7 166.26l4 4M149.7 170.26l4-4M149.7 163.67l4 4M149.7 167.67l4-4M149.7 161.08l4 4M149.7 165.08l4-4M149.7 158.48l4 4M149.7 162.48l4-4M156.1 218.15l4 4M156.1 222.15l4-4M156.1 215.56l4 4M156.1 219.56l4-4M156.1 212.97l4 4M156.1 216.97l4-4M156.1 210.37l4 4M156.1 214.37l4-4M156.1 207.78l4 4M156.1 211.78l4-4M156.1 205.18l4 4M156.1 209.18l4-4M156.1 202.59l4 4M156.1 206.59l4-4M156.1 199.99l4 4M156.1 203.99l4-4M156.1 197.4l4 4M156.1 201.4l4-4M156.1 194.8l4 4M156.1 198.8l4-4M156.1 192.21l4 4M156.1 196.21l4-4M156.1 189.61l4 4M156.1 193.61l4-4M156.1 187.02l4 4M156.1 191.02l4-4M156.1 184.43l4 4M156.1 188.43l4-4M156.1 181.83l4 4M156.1 185.83l4-4M156.1 179.24l4 4M156.1 183.24l4-4M156.1 176.64l4 4M156.1 180.64l4-4M156.1 174.05l4 4M156.1 178.05l4-4M156.1 171.45l4 4M156.1 175.45l4-4M156.1 168.86l4 4M156.1 172.86l4-4M156.1 166.26l4 4M156.1 170.26l4-4M156.1 163.67l4 4M156.1 167.67l4-4M156.1 161.08l4 4M156.1 165.08l4-4M156.1 158.48l4 4M156.1 162.48l4-4M156.1 155.89l4 4M156.1 159.89l4-4M162.5 215.56l4 4M162.5 219.56l4-4M162.5 212.97l4 4M162.5 216.97l4-4M162.5 210.37l4 4M162.5 214.37l4-4M162.5 207.78l4 4M162.5 211.78l4-4M162.5 205.18l4 4M162.5 209.18l4-4M162.5 202.59l4 4M162.5 206.59l4-4M162.5 199.99l4 4M162.5 203.99l4-4M162.5 197.4l4 4M162.5 201.4l4-4M162.5 194.8l4 4M162.5 198.8l4-4M162.5 192.21l4 4M162.5 196.21l4-4M162.5 189.61l4 4M162.5 193.61l4-4M162.5 187.02l4 4M162.5 191.02l4-4M162.5 184.43l4 4M162.5 188.43l4-4M162.5 181.83l4 4M162.5 185.83l4-4M162.5 179.24l4 4M162.5 183.24l4-4M162.5 176.64l4 4M162.5 180.64l4-4M162.5 174.05l4 4M162.5 178.05l4-4M162.5 171.45l4 4M162.5 175.45l4-4M162.5 168.86l4 4M162.5 172.86l4-4M162.5 166.26l4 4M162.5 170.26l4-4M162.5 163.67l4 4M162.5 167.67l4-4M162.5 161.08l4 4M162.5 165.08l4-4M162.5 158.48l4 4M162.5 162.48l4-4M162.5 155.89l4 4M162.5 159.89l4-4M162.5 153.29l4 4M162.5 157.29l4-4M168.9 212.97l4 4M168.9 216.97l4-4M168.9 210.37l4 4M168.9 214.37l4-4M168.9 207.78l4 4M168.9 211.78l4-4M168.9 205.18l4 4M168.9 209.18l4-4M168.9 202.59l4 4M168.9 206.59l4-4M168.9 199.99l4 4M168.9 203.99l4-4M168.9 197.4l4 4M168.9 201.4l4-4M168.9 194.8l4 4M168.9 198.8l4-4M168.9 192.21l4 4M168.9 196.21l4-4M168.9 189.61l4 4M168.9 193.61l4-4M168.9 187.02l4 4M168.9 191.02l4-4M168.9 184.43l4 4M168.9 188.43l4-4M168.9 181.83l4 4M168.9 185.83l4-4M168.9 179.24l4 4M168.9 183.24l4-4M168.9 176.64l4 4M168.9 180.64l4-4M168.9 174.05l4 4M168.9 178.05l4-4M168.9 171.45l4 4M168.9 175.45l4-4M168.9 168.86l4 4M168.9 172.86l4-4M168.9 166.26l4 4M168.9 170.26l4-4M168.9 163.67l4 4M168.9 167.67l4-4M168.9 161.08l4 4M168.9 165.08l4-4M168.9 158.48l4 4M168.9 162.48l4-4M168.9 155.89l4 4M168.9 159.89l4-4M168.9 153.29l4 4M168.9 157.29l4-4M168.9 150.7l4 4M168.9 154.7l4-4M175.3 210.37l4 4M175.3 214.37l4-4M175.3 207.78l4 4M175.3 211.78l4-4M175.3 205.18l4 4M175.3 209.18l4-4M175.3 202.59l4 4M175.3 206.59l4-4M175.3 199.99l4 4M175.3 203.99l4-4M175.3 197.4l4 4M175.3 201.4l4-4M175.3 194.8l4 4M175.3 198.8l4-4M175.3 192.21l4 4M175.3 196.21l4-4M175.3 189.61l4 4M175.3 193.61l4-4M175.3 187.02l4 4M175.3 191.02l4-4M175.3 184.43l4 4M175.3 188.43l4-4M175.3 181.83l4 4M175.3 185.83l4-4M175.3 179.24l4 4M175.3 183.24l4-4M175.3 176.64l4 4M175.3 180.64l4-4M175.3 174.05l4 4M175.3 178.05l4-4M175.3 171.45l4 4M175.3 175.45l4-4M175.3 168.86l4 4M175.3 172.86l4-4M175.3 166.26l4 4M175.3 170.26l4-4M175.3 163.67l4 4M175.3 167.67l4-4M175.3 161.08l4 4M175.3 165.08l4-4M175.3 158.48l4 4M175.3 162.48l4-4M175.3 155.89l4 4M175.3 159.89l4-4M175.3 153.29l4 4M175.3 157.29l4-4M175.3 150.7l4 4M175.3 154.7l4-4M175.3 148.1l4 4M175.3 152.1l4-4M181.7 207.78l4 4M181.7 211.78l4-4M181.7 205.18l4 4M181.7 209.18l4-4M181.7 202.59l4 4M181.7 206.59l4-4M181.7 199.99l4 4M181.7 203.99l4-4M181.7 197.4l4 4M181.7 201.4l4-4M181.7 194.8l4 4M181.7 198.8l4-4M181.7 192.21l4 4M181.7 196.21l4-4M181.7 189.61l4 4M181.7 193.61l4-4M181.7 187.02l4 4M181.7 191.02l4-4M181.7 184.43l4 4M181.7 188.43l4-4M181.7 181.83l4 4M181.7 185.83l4-4M181.7 179.24l4 4M181.7 183.24l4-4M181.7 176.64l4 4M181.7 180.64l4-4M181.7 174.05l4 4M181.7 178.05l4-4M181.7 171.45l4 4M181.7 175.45l4-4M181.7 168.86l4 4M181.7 172.86l4-4M181.7 166.26l4 4M181.7 170.26l4-4M181.7 163.67l4 4M181.7 167.67l4-4M181.7 161.08l4 4M181.7 165.08l4-4M181.7 158.48l4 4M181.7 162.48l4-4M181.7 155.89l4 4M181.7 159.89l4-4M181.7 153.29l4 4M181.7 157.29l4-4M181.7 150.7l4 4M181.7 154.7l4-4M181.7 148.1l4 4M181.7 152.1l4-4M181.7 145.51l4 4M181.7 149.51l4-4M181.7 142.91l4 4M181.7 146.91l4-4M188.1 205.18l4 4M188.1 209.18l4-4M188.1 202.59l4 4M188.1 206.59l4-4M188.1 199.99l4 4M188.1 203.99l4-4M188.1 197.4l4 4M188.1 201.4l4-4M188.1 194.8l4 4M188.1 198.8l4-4M188.1 192.21l4 4M188.1 196.21l4-4M188.1 189.61l4 4M188.1 193.61l4-4M188.1 187.02l4 4M188.1 191.02l4-4M188.1 184.43l4 4M188.1 188.43l4-4M188.1 181.83l4 4M188.1 185.83l4-4M188.1 179.24l4 4M188.1 183.24l4-4M188.1 176.64l4 4M188.1 180.64l4-4M188.1 174.05l4 4M188.1 178.05l4-4M188.1 171.45l4 4M188.1 175.45l4-4M188.1 168.86l4 4M188.1 172.86l4-4M188.1 166.26l4 4M188.1 170.26l4-4M188.1 163.67l4 4M188.1 167.67l4-4M188.1 161.08l4 4M188.1 165.08l4-4M188.1 158.48l4 4M188.1 162.48l4-4M188.1 155.89l4 4M188.1 159.89l4-4M188.1 153.29l4 4M188.1 157.29l4-4M188.1 150.7l4 4M188.1 154.7l4-4M188.1 148.1l4 4M188.1 152.1l4-4M188.1 145.51l4 4M188.1 149.51l4-4M188.1 142.91l4 4M188.1 146.91l4-4M188.1 140.32l4 4M188.1 144.32l4-4M194.5 202.59l4 4M194.5 206.59l4-4M194.5 199.99l4 4M194.5 203.99l4-4M194.5 197.4l4 4M194.5 201.4l4-4M194.5 194.8l4 4M194.5 198.8l4-4M194.5 192.21l4 4M194.5 196.21l4-4M194.5 189.61l4 4M194.5 193.61l4-4M194.5 187.02l4 4M194.5 191.02l4-4M194.5 184.43l4 4M194.5 188.43l4-4M194.5 181.83l4 4M194.5 185.83l4-4M194.5 179.24l4 4M194.5 183.24l4-4M194.5 176.64l4 4M194.5 180.64l4-4M194.5 174.05l4 4M194.5 178.05l4-4M194.5 171.45l4 4M194.5 175.45l4-4M194.5 168.86l4 4M194.5 172.86l4-4M194.5 166.26l4 4M194.5 170.26l4-4M194.5 163.67l4 4M194.5 167.67l4-4M194.5 161.08l4 4M194.5 165.08l4-4M194.5 158.48l4 4M194.5 162.48l4-4M194.5 155.89l4 4M194.5 159.89l4-4M194.5 153.29l4 4M194.5 157.29l4-4M194.5 150.7l4 4M194.5 154.7l4-4M194.5 148.1l4 4M194.5 152.1l4-4M194.5 145.51l4 4M194.5 149.51l4-4M194.5 142.91l4 4M194.5 146.91l4-4M194.5 140.32l4 4M194.5 144.32l4-4M194.5 137.72l4 4M194.5 141.72l4-4M200.9 199.99l4 4M200.9 203.99l4-4M200.9 197.4l4 4M200.9 201.4l4-4M200.9 194.8l4 4M200.9 198.8l4-4M200.9 192.21l4 4M200.9 196.21l4-4M200.9 189.61l4 4M200.9 193.61l4-4M200.9 187.02l4 4M200.9 191.02l4-4M200.9 184.43l4 4M200.9 188.43l4-4M200.9 181.83l4 4M200.9 185.83l4-4M200.9 179.24l4 4M200.9 183.24l4-4M200.9 176.64l4 4M200.9 180.64l4-4M200.9 174.05l4 4M200.9 178.05l4-4M200.9 171.45l4 4M200.9 175.45l4-4M200.9 168.86l4 4M200.9 172.86l4-4M200.9 166.26l4 4M200.9 170.26l4-4M200.9 163.67l4 4M200.9 167.67l4-4M200.9 161.08l4 4M200.9 165.08l4-4M200.9 158.48l4 4M200.9 162.48l4-4M200.9 155.89l4 4M200.9 159.89l4-4M200.9 153.29l4 4M200.9 157.29l4-4M200.9 150.7l4 4M200.9 154.7l4-4M200.9 148.1l4 4M200.9 152.1l4-4M200.9 145.51l4 4M200.9 149.51l4-4M200.9 142.91l4 4M200.9 146.91l4-4M200.9 140.32l4 4M200.9 144.32l4-4M200.9 137.72l4 4M200.9 141.72l4-4M200.9 135.13l4 4M200.9 139.13l4-4M207.3 197.4l4 4M207.3 201.4l4-4M207.3 194.8l4 4M207.3 198.8l4-4M207.3 192.21l4 4M207.3 196.21l4-4M207.3 189.61l4 4M207.3 193.61l4-4M207.3 187.02l4 4M207.3 191.02l4-4M207.3 184.43l4 4M207.3 188.43l4-4M207.3 181.83l4 4M207.3 185.83l4-4M207.3 179.24l4 4M207.3 183.24l4-4M207.3 176.64l4 4M207.3 180.64l4-4M207.3 174.05l4 4M207.3 178.05l4-4M207.3 171.45l4 4M207.3 175.45l4-4M207.3 168.86l4 4M207.3 172.86l4-4M207.3 166.26l4 4M207.3 170.26l4-4M207.3 163.67l4 4M207.3 167.67l4-4M207.3 161.08l4 4M207.3 165.08l4-4M207.3 158.48l4 4M207.3 162.48l4-4M207.3 155.89l4 4M207.3 159.89l4-4M207.3 153.29l4 4M207.3 157.29l4-4M207.3 150.7l4 4M207.3 154.7l4-4M207.3 148.1l4 4M207.3 152.1l4-4M207.3 145.51l4 4M207.3 149.51l4-4M207.3 142.91l4 4M207.3 146.91l4-4M207.3 140.32l4 4M207.3 144.32l4-4M207.3 137.72l4 4M207.3 141.72l4-4M207.3 135.13l4 4M207.3 139.13l4-4M207.3 132.54l4 4M207.3 136.54l4-4M213.7 194.8l4 4M213.7 198.8l4-4M213.7 192.21l4 4M213.7 196.21l4-4M213.7 189.61l4 4M213.7 193.61l4-4M213.7 187.02l4 4M213.7 191.02l4-4M213.7 184.43l4 4M213.7 188.43l4-4M213.7 181.83l4 4M213.7 185.83l4-4M213.7 179.24l4 4M213.7 183.24l4-4M213.7 176.64l4 4M213.7 180.64l4-4M213.7 174.05l4 4M213.7 178.05l4-4M213.7 171.45l4 4M213.7 175.45l4-4M213.7 168.86l4 4M213.7 172.86l4-4M213.7 166.26l4 4M213.7 170.26l4-4M213.7 163.67l4 4M213.7 167.67l4-4M213.7 161.08l4 4M213.7 165.08l4-4M213.7 158.48l4 4M213.7 162.48l4-4M213.7 155.89l4 4M213.7 159.89l4-4M213.7 153.29l4 4M213.7 157.29l4-4M213.7 150.7l4 4M213.7 154.7l4-4M213.7 148.1l4 4M213.7 152.1l4-4M213.7 145.51l4 4M213.7 149.51l4-4M213.7 142.91l4 4M213.7 146.91l4-4M213.7 140.32l4 4M213.7 144.32l4-4M213.7 137.72l4 4M213.7 141.72l4-4M213.7 135.13l4 4M213.7 139.13l4-4M213.7 132.54l4 4M213.7 136.54l4-4M213.7 129.94l4 4M213.7 133.94l4-4M220.1 192.21l4 4M220.1 196.21l4-4M220.1 189.61l4 4M220.1 193.61l4-4M220.1 187.02l4 4M220.1 191.02l4-4M220.1 184.43l4 4M220.1 188.43l4-4M220.1 181.83l4 4M220.1 185.83l4-4M220.1 179.24l4 4M220.1 183.24l4-4M220.1 176.64l4 4M220.1 180.64l4-4M220.1 174.05l4 4M220.1 178.05l4-4M220.1 171.45l4 4M220.1 175.45l4-4M220.1 168.86l4 4M220.1 172.86l4-4M220.1 166.26l4 4M220.1 170.26l4-4M220.1 163.67l4 4M220.1 167.67l4-4M220.1 161.08l4 4M220.1 165.08l4-4M220.1 158.48l4 4M220.1 162.48l4-4M220.1 155.89l4 4M220.1 159.89l4-4M220.1 153.29l4 4M220.1 157.29l4-4M220.1 150.7l4 4M220.1 154.7l4-4M220.1 148.1l4 4M220.1 152.1l4-4M220.1 145.51l4 4M220.1 149.51l4-4M220.1 142.91l4 4M220.1 146.91l4-4M220.1 140.32l4 4M220.1 144.32l4-4M220.1 137.72l4 4M220.1 141.72l4-4M220.1 135.13l4 4M220.1 139.13l4-4M220.1 132.54l4 4M220.1 136.54l4-4M220.1 129.94l4 4M220.1 133.94l4-4M220.1 127.35l4 4M220.1 131.35l4-4M226.5 189.61l4 4M226.5 193.61l4-4M226.5 187.02l4 4M226.5 191.02l4-4M226.5 184.43l4 4M226.5 188.43l4-4M226.5 181.83l4 4M226.5 185.83l4-4M226.5 179.24l4 4M226.5 183.24l4-4M226.5 176.64l4 4M226.5 180.64l4-4M226.5 174.05l4 4M226.5 178.05l4-4M226.5 171.45l4 4M226.5 175.45l4-4M226.5 168.86l4 4M226.5 172.86l4-4M226.5 166.26l4 4M226.5 170.26l4-4M226.5 163.67l4 4M226.5 167.67l4-4M226.5 161.08l4 4M226.5 165.08l4-4M226.5 158.48l4 4M226.5 162.48l4-4M226.5 155.89l4 4M226.5 159.89l4-4M226.5 153.29l4 4M226.5 157.29l4-4M226.5 150.7l4 4M226.5 154.7l4-4M226.5 148.1l4 4M226.5 152.1l4-4M226.5 145.51l4 4M226.5 149.51l4-4M226.5 142.91l4 4M226.5 146.91l4-4M226.5 140.32l4 4M226.5 144.32l4-4M226.5 137.72l4 4M226.5 141.72l4-4M226.5 135.13l4 4M226.5 139.13l4-4M226.5 132.54l4 4M226.5 136.54l4-4M226.5 129.94l4 4M226.5 133.94l4-4M226.5 127.35l4 4M226.5 131.35l4-4M226.5 124.75l4 4M226.5 128.75l4-4M232.9 187.02l4 4M232.9 191.02l4-4M232.9 184.43l4 4M232.9 188.43l4-4M232.9 181.83l4 4M232.9 185.83l4-4M232.9 179.24l4 4M232.9 183.24l4-4M232.9 176.64l4 4M232.9 180.64l4-4M232.9 174.05l4 4M232.9 178.05l4-4M232.9 171.45l4 4M232.9 175.45l4-4M232.9 168.86l4 4M232.9 172.86l4-4M232.9 166.26l4 4M232.9 170.26l4-4M232.9 163.67l4 4M232.9 167.67l4-4M232.9 161.08l4 4M232.9 165.08l4-4M232.9 158.48l4 4M232.9 162.48l4-4M232.9 155.89l4 4M232.9 159.89l4-4M232.9 153.29l4 4M232.9 157.29l4-4M232.9 150.7l4 4M232.9 154.7l4-4M232.9 148.1l4 4M232.9 152.1l4-4M232.9 145.51l4 4M232.9 149.51l4-4M232.9 142.91l4 4M232.9 146.91l4-4M232.9 140.32l4 4M232.9 144.32l4-4M232.9 137.72l4 4M232.9 141.72l4-4M232.9 135.13l4 4M232.9 139.13l4-4M232.9 132.54l4 4M232.9 136.54l4-4M232.9 129.94l4 4M232.9 133.94l4-4M232.9 127.35l4 4M232.9 131.35l4-4M232.9 124.75l4 4M232.9 128.75l4-4M232.9 122.16l4 4M232.9 126.16l4-4M232.9 119.56l4 4M232.9 123.56l4-4M239.3 184.43l4 4M239.3 188.43l4-4M239.3 181.83l4 4M239.3 185.83l4-4M239.3 179.24l4 4M239.3 183.24l4-4M239.3 176.64l4 4M239.3 180.64l4-4M239.3 174.05l4 4M239.3 178.05l4-4M239.3 171.45l4 4M239.3 175.45l4-4M239.3 168.86l4 4M239.3 172.86l4-4M239.3 166.26l4 4M239.3 170.26l4-4M239.3 163.67l4 4M239.3 167.67l4-4M239.3 161.08l4 4M239.3 165.08l4-4M239.3 158.48l4 4M239.3 162.48l4-4M239.3 155.89l4 4M239.3 159.89l4-4M239.3 153.29l4 4M239.3 157.29l4-4M239.3 150.7l4 4M239.3 154.7l4-4M239.3 148.1l4 4M239.3 152.1l4-4M239.3 145.51l4 4M239.3 149.51l4-4M239.3 142.91l4 4M239.3 146.91l4-4M239.3 140.32l4 4M239.3 144.32l4-4M239.3 137.72l4 4M239.3 141.72l4-4M239.3 135.13l4 4M239.3 139.13l4-4M239.3 132.54l4 4M239.3 136.54l4-4M239.3 129.94l4 4M239.3 133.94l4-4M239.3 127.35l4 4M239.3 131.35l4-4M239.3 124.75l4 4M239.3 128.75l4-4M239.3 122.16l4 4M239.3 126.16l4-4M239.3 119.56l4 4M239.3 123.56l4-4M239.3 116.97l4 4M239.3 120.97l4-4M245.7 181.83l4 4M245.7 185.83l4-4M245.7 179.24l4 4M245.7 183.24l4-4M245.7 176.64l4 4M245.7 180.64l4-4M245.7 174.05l4 4M245.7 178.05l4-4M245.7 171.45l4 4M245.7 175.45l4-4M245.7 168.86l4 4M245.7 172.86l4-4M245.7 166.26l4 4M245.7 170.26l4-4M245.7 163.67l4 4M245.7 167.67l4-4M245.7 161.08l4 4M245.7 165.08l4-4M245.7 158.48l4 4M245.7 162.48l4-4M245.7 155.89l4 4M245.7 159.89l4-4M245.7 153.29l4 4M245.7 157.29l4-4M245.7 150.7l4 4M245.7 154.7l4-4M245.7 148.1l4 4M245.7 152.1l4-4M245.7 145.51l4 4M245.7 149.51l4-4M245.7 142.91l4 4M245.7 146.91l4-4M245.7 140.32l4 4M245.7 144.32l4-4M245.7 137.72l4 4M245.7 141.72l4-4M245.7 135.13l4 4M245.7 139.13l4-4M245.7 132.54l4 4M245.7 136.54l4-4M245.7 129.94l4 4M245.7 133.94l4-4M245.7 127.35l4 4M245.7 131.35l4-4M245.7 124.75l4 4M245.7 128.75l4-4M245.7 122.16l4 4M245.7 126.16l4-4M245.7 119.56l4 4M245.7 123.56l4-4M245.7 116.97l4 4M245.7 120.97l4-4M245.7 114.37l4 4M245.7 118.37l4-4M252.1 179.24l4 4M252.1 183.24l4-4M252.1 176.64l4 4M252.1 180.64l4-4M252.1 174.05l4 4M252.1 178.05l4-4M252.1 171.45l4 4M252.1 175.45l4-4M252.1 168.86l4 4M252.1 172.86l4-4M252.1 166.26l4 4M252.1 170.26l4-4M252.1 163.67l4 4M252.1 167.67l4-4M252.1 161.08l4 4M252.1 165.08l4-4M252.1 158.48l4 4M252.1 162.48l4-4M252.1 155.89l4 4M252.1 159.89l4-4M252.1 153.29l4 4M252.1 157.29l4-4M252.1 150.7l4 4M252.1 154.7l4-4M252.1 148.1l4 4M252.1 152.1l4-4M252.1 145.51l4 4M252.1 149.51l4-4M252.1 142.91l4 4M252.1 146.91l4-4M252.1 140.32l4 4M252.1 144.32l4-4M252.1 137.72l4 4M252.1 141.72l4-4M252.1 135.13l4 4M252.1 139.13l4-4M252.1 132.54l4 4M252.1 136.54l4-4M252.1 129.94l4 4M252.1 133.94l4-4M252.1 127.35l4 4M252.1 131.35l4-4M252.1 124.75l4 4M252.1 128.75l4-4M252.1 122.16l4 4M252.1 126.16l4-4M252.1 119.56l4 4M252.1 123.56l4-4M252.1 116.97l4 4M252.1 120.97l4-4M252.1 114.37l4 4M252.1 118.37l4-4M252.1 111.78l4 4M252.1 115.78l4-4M258.5 176.64l4 4M258.5 180.64l4-4M258.5 174.05l4 4M258.5 178.05l4-4M258.5 171.45l4 4M258.5 175.45l4-4M258.5 168.86l4 4M258.5 172.86l4-4M258.5 166.26l4 4M258.5 170.26l4-4M258.5 163.67l4 4M258.5 167.67l4-4M258.5 161.08l4 4M258.5 165.08l4-4M258.5 158.48l4 4M258.5 162.48l4-4M258.5 155.89l4 4M258.5 159.89l4-4M258.5 153.29l4 4M258.5 157.29l4-4M258.5 150.7l4 4M258.5 154.7l4-4M258.5 148.1l4 4M258.5 152.1l4-4M258.5 145.51l4 4M258.5 149.51l4-4M258.5 142.91l4 4M258.5 146.91l4-4M258.5 140.32l4 4M258.5 144.32l4-4M258.5 137.72l4 4M258.5 141.72l4-4M258.5 135.13l4 4M258.5 139.13l4-4M258.5 132.54l4 4M258.5 136.54l4-4M258.5 129.94l4 4M258.5 133.94l4-4M258.5 127.35l4 4M258.5 131.35l4-4M258.5 124.75l4 4M258.5 128.75l4-4M258.5 122.16l4 4M258.5 126.16l4-4M258.5 119.56l4 4M258.5 123.56l4-4M258.5 116.97l4 4M258.5 120.97l4-4M258.5 114.37l4 4M258.5 118.37l4-4M258.5 111.78l4 4M258.5 115.78l4-4M258.5 109.19l4 4M258.5 113.19l4-4M264.9 174.05l4 4M264.9 178.05l4-4M264.9 171.45l4 4M264.9 175.45l4-4M264.9 168.86l4 4M264.9 172.86l4-4M264.9 166.26l4 4M264.9 170.26l4-4M264.9 163.67l4 4M264.9 167.67l4-4M264.9 161.08l4 4M264.9 165.08l4-4M264.9 158.48l4 4M264.9 162.48l4-4M264.9 155.89l4 4M264.9 159.89l4-4M264.9 153.29l4 4M264.9 157.29l4-4M264.9 150.7l4 4M264.9 154.7l4-4M264.9 148.1l4 4M264.9 152.1l4-4M264.9 145.51l4 4M264.9 149.51l4-4M264.9 142.91l4 4M264.9 146.91l4-4M264.9 140.32l4 4M264.9 144.32l4-4M264.9 137.72l4 4M264.9 141.72l4-4M264.9 135.13l4 4M264.9 139.13l4-4M264.9 132.54l4 4M264.9 136.54l4-4M264.9 129.94l4 4M264.9 133.94l4-4M264.9 127.35l4 4M264.9 131.35l4-4M264.9 124.75l4 4M264.9 128.75l4-4M264.9 122.16l4 4M264.9 126.16l4-4M264.9 119.56l4 4M264.9 123.56l4-4M264.9 116.97l4 4M264.9 120.97l4-4M264.9 114.37l4 4M264.9 118.37l4-4M264.9 111.78l4 4M264.9 115.78l4-4M264.9 109.19l4 4M264.9 113.19l4-4M264.9 106.59l4 4M264.9 110.59l4-4M264.9 104l4 4M264.9 108l4-4M271.3 171.45l4 4M271.3 175.45l4-4M271.3 168.86l4 4M271.3 172.86l4-4M271.3 166.26l4 4M271.3 170.26l4-4M271.3 163.67l4 4M271.3 167.67l4-4M271.3 161.08l4 4M271.3 165.08l4-4M271.3 158.48l4 4M271.3 162.48l4-4M271.3 155.89l4 4M271.3 159.89l4-4M271.3 153.29l4 4M271.3 157.29l4-4M271.3 150.7l4 4M271.3 154.7l4-4M271.3 148.1l4 4M271.3 152.1l4-4M271.3 145.51l4 4M271.3 149.51l4-4M271.3 142.91l4 4M271.3 146.91l4-4M271.3 140.32l4 4M271.3 144.32l4-4M271.3 137.72l4 4M271.3 141.72l4-4M271.3 135.13l4 4M271.3 139.13l4-4M271.3 132.54l4 4M271.3 136.54l4-4M271.3 129.94l4 4M271.3 133.94l4-4M271.3 127.35l4 4M271.3 131.35l4-4M271.3 124.75l4 4M271.3 128.75l4-4M271.3 122.16l4 4M271.3 126.16l4-4M271.3 119.56l4 4M271.3 123.56l4-4M271.3 116.97l4 4M271.3 120.97l4-4M271.3 114.37l4 4M271.3 118.37l4-4M271.3 111.78l4 4M271.3 115.78l4-4M271.3 109.19l4 4M271.3 113.19l4-4M271.3 106.59l4 4M271.3 110.59l4-4M271.3 104l4 4M271.3 108l4-4M271.3 101.4l4 4M271.3 105.4l4-4M277.7 168.86l4 4M277.7 172.86l4-4M277.7 166.26l4 4M277.7 170.26l4-4M277.7 163.67l4 4M277.7 167.67l4-4M277.7 161.08l4 4M277.7 165.08l4-4M277.7 158.48l4 4M277.7 162.48l4-4M277.7 155.89l4 4M277.7 159.89l4-4M277.7 153.29l4 4M277.7 157.29l4-4M277.7 150.7l4 4M277.7 154.7l4-4M277.7 148.1l4 4M277.7 152.1l4-4M277.7 145.51l4 4M277.7 149.51l4-4M277.7 142.91l4 4M277.7 146.91l4-4M277.7 140.32l4 4M277.7 144.32l4-4M277.7 137.72l4 4M277.7 141.72l4-4M277.7 135.13l4 4M277.7 139.13l4-4M277.7 132.54l4 4M277.7 136.54l4-4M277.7 129.94l4 4M277.7 133.94l4-4M277.7 127.35l4 4M277.7 131.35l4-4M277.7 124.75l4 4M277.7 128.75l4-4M277.7 122.16l4 4M277.7 126.16l4-4M277.7 119.56l4 4M277.7 123.56l4-4M277.7 116.97l4 4M277.7 120.97l4-4M277.7 114.37l4 4M277.7 118.37l4-4M277.7 111.78l4 4M277.7 115.78l4-4M277.7 109.19l4 4M277.7 113.19l4-4M277.7 106.59l4 4M277.7 110.59l4-4M277.7 104l4 4M277.7 108l4-4M277.7 101.4l4 4M277.7 105.4l4-4M277.7 98.81l4 4M277.7 102.81l4-4M277.7 96.21l4 4M277.7 100.21l4-4M284.1 166.26l4 4M284.1 170.26l4-4M284.1 163.67l4 4M284.1 167.67l4-4M284.1 161.08l4 4M284.1 165.08l4-4M284.1 158.48l4 4M284.1 162.48l4-4M284.1 155.89l4 4M284.1 159.89l4-4M284.1 153.29l4 4M284.1 157.29l4-4M284.1 150.7l4 4M284.1 154.7l4-4M284.1 148.1l4 4M284.1 152.1l4-4M284.1 145.51l4 4M284.1 149.51l4-4M284.1 142.91l4 4M284.1 146.91l4-4M284.1 140.32l4 4M284.1 144.32l4-4M284.1 137.72l4 4M284.1 141.72l4-4M284.1 135.13l4 4M284.1 139.13l4-4M284.1 132.54l4 4M284.1 136.54l4-4M284.1 129.94l4 4M284.1 133.94l4-4M284.1 127.35l4 4M284.1 131.35l4-4M284.1 124.75l4 4M284.1 128.75l4-4M284.1 122.16l4 4M284.1 126.16l4-4M284.1 119.56l4 4M284.1 123.56l4-4M284.1 116.97l4 4M284.1 120.97l4-4M284.1 114.37l4 4M284.1 118.37l4-4M284.1 111.78l4 4M284.1 115.78l4-4M284.1 109.19l4 4M284.1 113.19l4-4M284.1 106.59l4 4M284.1 110.59l4-4M284.1 104l4 4M284.1 108l4-4M284.1 101.4l4 4M284.1 105.4l4-4M284.1 98.81l4 4M284.1 102.81l4-4M284.1 96.21l4 4M284.1 100.21l4-4M284.1 93.62l4 4M284.1 97.62l4-4M290.5 163.67l4 4M290.5 167.67l4-4M290.5 161.08l4 4M290.5 165.08l4-4M290.5 158.48l4 4M290.5 162.48l4-4M290.5 155.89l4 4M290.5 159.89l4-4M290.5 153.29l4 4M290.5 157.29l4-4M290.5 150.7l4 4M290.5 154.7l4-4M290.5 148.1l4 4M290.5 152.1l4-4M290.5 145.51l4 4M290.5 149.51l4-4M290.5 142.91l4 4M290.5 146.91l4-4M290.5 140.32l4 4M290.5 144.32l4-4M290.5 137.72l4 4M290.5 141.72l4-4M290.5 135.13l4 4M290.5 139.13l4-4M290.5 132.54l4 4M290.5 136.54l4-4M290.5 129.94l4 4M290.5 133.94l4-4M290.5 127.35l4 4M290.5 131.35l4-4M290.5 124.75l4 4M290.5 128.75l4-4M290.5 122.16l4 4M290.5 126.16l4-4M290.5 119.56l4 4M290.5 123.56l4-4M290.5 116.97l4 4M290.5 120.97l4-4M290.5 114.37l4 4M290.5 118.37l4-4M290.5 111.78l4 4M290.5 115.78l4-4M290.5 109.19l4 4M290.5 113.19l4-4M290.5 106.59l4 4M290.5 110.59l4-4M290.5 104l4 4M290.5 108l4-4M290.5 101.4l4 4M290.5 105.4l4-4M290.5 98.81l4 4M290.5 102.81l4-4M290.5 96.21l4 4M290.5 100.21l4-4M290.5 93.62l4 4M290.5 97.62l4-4M290.5 91.02l4 4M290.5 95.02l4-4M290.5 88.43l4 4M290.5 92.43l4-4M296.9 161.08l4 4M296.9 165.08l4-4M296.9 158.48l4 4M296.9 162.48l4-4M296.9 155.89l4 4M296.9 159.89l4-4M296.9 153.29l4 4M296.9 157.29l4-4M296.9 150.7l4 4M296.9 154.7l4-4M296.9 148.1l4 4M296.9 152.1l4-4M296.9 145.51l4 4M296.9 149.51l4-4M296.9 142.91l4 4M296.9 146.91l4-4M296.9 140.32l4 4M296.9 144.32l4-4M296.9 137.72l4 4M296.9 141.72l4-4M296.9 135.13l4 4M296.9 139.13l4-4M296.9 132.54l4 4M296.9 136.54l4-4M296.9 129.94l4 4M296.9 133.94l4-4M296.9 127.35l4 4M296.9 131.35l4-4M296.9 124.75l4 4M296.9 128.75l4-4M296.9 122.16l4 4M296.9 126.16l4-4M296.9 119.56l4 4M296.9 123.56l4-4M296.9 116.97l4 4M296.9 120.97l4-4M296.9 114.37l4 4M296.9 118.37l4-4M296.9 111.78l4 4M296.9 115.78l4-4M296.9 109.19l4 4M296.9 113.19l4-4M296.9 106.59l4 4M296.9 110.59l4-4M296.9 104l4 4M296.9 108l4-4M296.9 101.4l4 4M296.9 105.4l4-4M296.9 98.81l4 4M296.9 102.81l4-4M296.9 96.21l4 4M296.9 100.21l4-4M296.9 93.62l4 4M296.9 97.62l4-4M296.9 91.02l4 4M296.9 95.02l4-4M296.9 88.43l4 4M296.9 92.43l4-4M296.9 85.83l4 4M296.9 89.83l4-4M303.3 158.48l4 4M303.3 162.48l4-4M303.3 155.89l4 4M303.3 159.89l4-4M303.3 153.29l4 4M303.3 157.29l4-4M303.3 150.7l4 4M303.3 154.7l4-4M303.3 148.1l4 4M303.3 152.1l4-4M303.3 145.51l4 4M303.3 149.51l4-4M303.3 142.91l4 4M303.3 146.91l4-4M303.3 140.32l4 4M303.3 144.32l4-4M303.3 137.72l4 4M303.3 141.72l4-4M303.3 135.13l4 4M303.3 139.13l4-4M303.3 132.54l4 4M303.3 136.54l4-4M303.3 129.94l4 4M303.3 133.94l4-4M303.3 127.35l4 4M303.3 131.35l4-4M303.3 124.75l4 4M303.3 128.75l4-4M303.3 122.16l4 4M303.3 126.16l4-4M303.3 119.56l4 4M303.3 123.56l4-4M303.3 116.97l4 4M303.3 120.97l4-4M303.3 114.37l4 4M303.3 118.37l4-4M303.3 111.78l4 4M303.3 115.78l4-4M303.3 109.19l4 4M303.3 113.19l4-4M303.3 106.59l4 4M303.3 110.59l4-4M303.3 104l4 4M303.3 108l4-4M303.3 101.4l4 4M303.3 105.4l4-4M303.3 98.81l4 4M303.3 102.81l4-4M303.3 96.21l4 4M303.3 100.21l4-4M303.3 93.62l4 4M303.3 97.62l4-4M303.3 91.02l4 4M303.3 95.02l4-4M303.3 88.43l4 4M303.3 92.43l4-4M303.3 85.83l4 4M303.3 89.83l4-4M303.3 83.24l4 4M303.3 87.24l4-4M303.3 80.65l4 4M303.3 84.65l4-4M309.7 155.89l4 4M309.7 159.89l4-4M309.7 153.29l4 4M309.7 157.29l4-4M309.7 150.7l4 4M309.7 154.7l4-4M309.7 148.1l4 4M309.7 152.1l4-4M309.7 145.51l4 4M309.7 149.51l4-4M309.7 142.91l4 4M309.7 146.91l4-4M309.7 140.32l4 4M309.7 144.32l4-4M309.7 137.72l4 4M309.7 141.72l4-4M309.7 135.13l4 4M309.7 139.13l4-4M309.7 132.54l4 4M309.7 136.54l4-4M309.7 129.94l4 4M309.7 133.94l4-4M309.7 127.35l4 4M309.7 131.35l4-4M309.7 124.75l4 4M309.7 128.75l4-4M309.7 122.16l4 4M309.7 126.16l4-4M309.7 119.56l4 4M309.7 123.56l4-4M309.7 116.97l4 4M309.7 120.97l4-4M309.7 114.37l4 4M309.7 118.37l4-4M309.7 111.78l4 4M309.7 115.78l4-4M309.7 109.19l4 4M309.7 113.19l4-4M309.7 106.59l4 4M309.7 110.59l4-4M309.7 104l4 4M309.7 108l4-4M309.7 101.4l4 4M309.7 105.4l4-4M309.7 98.81l4 4M309.7 102.81l4-4M309.7 96.21l4 4M309.7 100.21l4-4M309.7 93.62l4 4M309.7 97.62l4-4M309.7 91.02l4 4M309.7 95.02l4-4M309.7 88.43l4 4M309.7 92.43l4-4M309.7 85.83l4 4M309.7 89.83l4-4M309.7 83.24l4 4M309.7 87.24l4-4M309.7 80.65l4 4M309.7 84.65l4-4M309.7 78.05l4 4M309.7 82.05l4-4M316.1 153.29l4 4M316.1 157.29l4-4M316.1 150.7l4 4M316.1 154.7l4-4M316.1 148.1l4 4M316.1 152.1l4-4M316.1 145.51l4 4M316.1 149.51l4-4M316.1 142.91l4 4M316.1 146.91l4-4M316.1 140.32l4 4M316.1 144.32l4-4M316.1 137.72l4 4M316.1 141.72l4-4M316.1 135.13l4 4M316.1 139.13l4-4M316.1 132.54l4 4M316.1 136.54l4-4M316.1 129.94l4 4M316.1 133.94l4-4M316.1 127.35l4 4M316.1 131.35l4-4M316.1 124.75l4 4M316.1 128.75l4-4M316.1 122.16l4 4M316.1 126.16l4-4M316.1 119.56l4 4M316.1 123.56l4-4M316.1 116.97l4 4M316.1 120.97l4-4M316.1 114.37l4 4M316.1 118.37l4-4M316.1 111.78l4 4M316.1 115.78l4-4M316.1 109.19l4 4M316.1 113.19l4-4M316.1 106.59l4 4M316.1 110.59l4-4M316.1 104l4 4M316.1 108l4-4M316.1 101.4l4 4M316.1 105.4l4-4M316.1 98.81l4 4M316.1 102.81l4-4M316.1 96.21l4 4M316.1 100.21l4-4M316.1 93.62l4 4M316.1 97.62l4-4M316.1 91.02l4 4M316.1 95.02l4-4M316.1 88.43l4 4M316.1 92.43l4-4M316.1 85.83l4 4M316.1 89.83l4-4M316.1 83.24l4 4M316.1 87.24l4-4M316.1 80.65l4 4M316.1 84.65l4-4M316.1 78.05l4 4M316.1 82.05l4-4M316.1 75.46l4 4M316.1 79.46l4-4M316.1 72.86l4 4M316.1 76.86l4-4M322.5 150.7l4 4M322.5 154.7l4-4M322.5 148.1l4 4M322.5 152.1l4-4M322.5 145.51l4 4M322.5 149.51l4-4M322.5 142.91l4 4M322.5 146.91l4-4M322.5 140.32l4 4M322.5 144.32l4-4M322.5 137.72l4 4M322.5 141.72l4-4M322.5 135.13l4 4M322.5 139.13l4-4M322.5 132.54l4 4M322.5 136.54l4-4M322.5 129.94l4 4M322.5 133.94l4-4M322.5 127.35l4 4M322.5 131.35l4-4M322.5 124.75l4 4M322.5 128.75l4-4M322.5 122.16l4 4M322.5 126.16l4-4M322.5 119.56l4 4M322.5 123.56l4-4M322.5 116.97l4 4M322.5 120.97l4-4M322.5 114.37l4 4M322.5 118.37l4-4M322.5 111.78l4 4M322.5 115.78l4-4M322.5 109.19l4 4M322.5 113.19l4-4M322.5 106.59l4 4M322.5 110.59l4-4M322.5 104l4 4M322.5 108l4-4M322.5 101.4l4 4M322.5 105.4l4-4M322.5 98.81l4 4M322.5 102.81l4-4M322.5 96.21l4 4M322.5 100.21l4-4M322.5 93.62l4 4M322.5 97.62l4-4M322.5 91.02l4 4M322.5 95.02l4-4M322.5 88.43l4 4M322.5 92.43l4-4M322.5 85.83l4 4M322.5 89.83l4-4M322.5 83.24l4 4M322.5 87.24l4-4M322.5 80.65l4 4M322.5 84.65l4-4M322.5 78.05l4 4M322.5 82.05l4-4M322.5 75.46l4 4M322.5 79.46l4-4M322.5 72.86l4 4M322.5 76.86l4-4M322.5 70.27l4 4M322.5 74.27l4-4M322.5 67.67l4 4M322.5 71.67l4-4M328.9 148.1l4 4M328.9 152.1l4-4M328.9 145.51l4 4M328.9 149.51l4-4M328.9 142.91l4 4M328.9 146.91l4-4M328.9 140.32l4 4M328.9 144.32l4-4M328.9 137.72l4 4M328.9 141.72l4-4M328.9 135.13l4 4M328.9 139.13l4-4M328.9 132.54l4 4M328.9 136.54l4-4M328.9 129.94l4 4M328.9 133.94l4-4M328.9 127.35l4 4M328.9 131.35l4-4M328.9 124.75l4 4M328.9 128.75l4-4M328.9 122.16l4 4M328.9 126.16l4-4M328.9 119.56l4 4M328.9 123.56l4-4M328.9 116.97l4 4M328.9 120.97l4-4M328.9 114.37l4 4M328.9 118.37l4-4M328.9 111.78l4 4M328.9 115.78l4-4M328.9 109.19l4 4M328.9 113.19l4-4M328.9 106.59l4 4M328.9 110.59l4-4M328.9 104l4 4M328.9 108l4-4M328.9 101.4l4 4M328.9 105.4l4-4M328.9 98.81l4 4M328.9 102.81l4-4M328.9 96.21l4 4M328.9 100.21l4-4M328.9 93.62l4 4M328.9 97.62l4-4M328.9 91.02l4 4M328.9 95.02l4-4M328.9 88.43l4 4M328.9 92.43l4-4M328.9 85.83l4 4M328.9 89.83l4-4M328.9 83.24l4 4M328.9 87.24l4-4M328.9 80.65l4 4M328.9 84.65l4-4M328.9 78.05l4 4M328.9 82.05l4-4M328.9 75.46l4 4M328.9 79.46l4-4M328.9 72.86l4 4M328.9 76.86l4-4M328.9 70.27l4 4M328.9 74.27l4-4M328.9 67.67l4 4M328.9 71.67l4-4M328.9 65.08l4 4M328.9 69.08l4-4M328.9 62.48l4 4M328.9 66.48l4-4M335.3 145.51l4 4M335.3 149.51l4-4M335.3 142.91l4 4M335.3 146.91l4-4M335.3 140.32l4 4M335.3 144.32l4-4M335.3 137.72l4 4M335.3 141.72l4-4M335.3 135.13l4 4M335.3 139.13l4-4M335.3 132.54l4 4M335.3 136.54l4-4M335.3 129.94l4 4M335.3 133.94l4-4M335.3 127.35l4 4M335.3 131.35l4-4M335.3 124.75l4 4M335.3 128.75l4-4M335.3 122.16l4 4M335.3 126.16l4-4M335.3 119.56l4 4M335.3 123.56l4-4M335.3 116.97l4 4M335.3 120.97l4-4M335.3 114.37l4 4M335.3 118.37l4-4M335.3 111.78l4 4M335.3 115.78l4-4M335.3 109.19l4 4M335.3 113.19l4-4M335.3 106.59l4 4M335.3 110.59l4-4M335.3 104l4 4M335.3 108l4-4M335.3 101.4l4 4M335.3 105.4l4-4M335.3 98.81l4 4M335.3 102.81l4-4M335.3 96.21l4 4M335.3 100.21l4-4M335.3 93.62l4 4M335.3 97.62l4-4M335.3 91.02l4 4M335.3 95.02l4-4M335.3 88.43l4 4M335.3 92.43l4-4M335.3 85.83l4 4M335.3 89.83l4-4M335.3 83.24l4 4M335.3 87.24l4-4M335.3 80.65l4 4M335.3 84.65l4-4M335.3 78.05l4 4M335.3 82.05l4-4M335.3 75.46l4 4M335.3 79.46l4-4M335.3 72.86l4 4M335.3 76.86l4-4M335.3 70.27l4 4M335.3 74.27l4-4M335.3 67.67l4 4M335.3 71.67l4-4M335.3 65.08l4 4M335.3 69.08l4-4M335.3 62.48l4 4M335.3 66.48l4-4M335.3 59.89l4 4M335.3 63.89l4-4M335.3 57.3l4 4M335.3 61.3l4-4M341.7 142.91l4 4M341.7 146.91l4-4M341.7 140.32l4 4M341.7 144.32l4-4M341.7 137.72l4 4M341.7 141.72l4-4M341.7 135.13l4 4M341.7 139.13l4-4M341.7 132.54l4 4M341.7 136.54l4-4M341.7 129.94l4 4M341.7 133.94l4-4M341.7 127.35l4 4M341.7 131.35l4-4M341.7 124.75l4 4M341.7 128.75l4-4M341.7 122.16l4 4M341.7 126.16l4-4M341.7 119.56l4 4M341.7 123.56l4-4M341.7 116.97l4 4M341.7 120.97l4-4M341.7 114.37l4 4M341.7 118.37l4-4M341.7 111.78l4 4M341.7 115.78l4-4M341.7 109.19l4 4M341.7 113.19l4-4M341.7 106.59l4 4M341.7 110.59l4-4M341.7 104l4 4M341.7 108l4-4M341.7 101.4l4 4M341.7 105.4l4-4M341.7 98.81l4 4M341.7 102.81l4-4M341.7 96.21l4 4M341.7 100.21l4-4M341.7 93.62l4 4M341.7 97.62l4-4M341.7 91.02l4 4M341.7 95.02l4-4M341.7 88.43l4 4M341.7 92.43l4-4M341.7 85.83l4 4M341.7 89.83l4-4M341.7 83.24l4 4M341.7 87.24l4-4M341.7 80.65l4 4M341.7 84.65l4-4M341.7 78.05l4 4M341.7 82.05l4-4M341.7 75.46l4 4M341.7 79.46l4-4M341.7 72.86l4 4M341.7 76.86l4-4M341.7 70.27l4 4M341.7 74.27l4-4M341.7 67.67l4 4M341.7 71.67l4-4M341.7 65.08l4 4M341.7 69.08l4-4M341.7 62.48l4 4M341.7 66.48l4-4M341.7 59.89l4 4M341.7 63.89l4-4M341.7 57.3l4 4M341.7 61.3l4-4M341.7 54.7l4 4M341.7 58.7l4-4M341.7 52.11l4 4M341.7 56.11l4-4M348.1 140.32l4 4M348.1 144.32l4-4M348.1 137.72l4 4M348.1 141.72l4-4M348.1 135.13l4 4M348.1 139.13l4-4M348.1 132.54l4 4M348.1 136.54l4-4M348.1 129.94l4 4M348.1 133.94l4-4M348.1 127.35l4 4M348.1 131.35l4-4M348.1 124.75l4 4M348.1 128.75l4-4M348.1 122.16l4 4M348.1 126.16l4-4M348.1 119.56l4 4M348.1 123.56l4-4M348.1 116.97l4 4M348.1 120.97l4-4M348.1 114.37l4 4M348.1 118.37l4-4M348.1 111.78l4 4M348.1 115.78l4-4M348.1 109.19l4 4M348.1 113.19l4-4M348.1 106.59l4 4M348.1 110.59l4-4M348.1 104l4 4M348.1 108l4-4M348.1 101.4l4 4M348.1 105.4l4-4M348.1 98.81l4 4M348.1 102.81l4-4M348.1 96.21l4 4M348.1 100.21l4-4M348.1 93.62l4 4M348.1 97.62l4-4M348.1 91.02l4 4M348.1 95.02l4-4M348.1 88.43l4 4M348.1 92.43l4-4M348.1 85.83l4 4M348.1 89.83l4-4M348.1 83.24l4 4M348.1 87.24l4-4M348.1 80.65l4 4M348.1 84.65l4-4M348.1 78.05l4 4M348.1 82.05l4-4M348.1 75.46l4 4M348.1 79.46l4-4M348.1 72.86l4 4M348.1 76.86l4-4M348.1 70.27l4 4M348.1 74.27l4-4M348.1 67.67l4 4M348.1 71.67l4-4M348.1 65.08l4 4M348.1 69.08l4-4M348.1 62.48l4 4M348.1 66.48l4-4M348.1 59.89l4 4M348.1 63.89l4-4M348.1 57.3l4 4M348.1 61.3l4-4M348.1 54.7l4 4M348.1 58.7l4-4M348.1 52.11l4 4M348.1 56.11l4-4M348.1 49.51l4 4M348.1 53.51l4-4M348.1 46.92l4 4M348.1 50.92l4-4M354.5 137.72l4 4M354.5 141.72l4-4M354.5 135.13l4 4M354.5 139.13l4-4M354.5 132.54l4 4M354.5 136.54l4-4M354.5 129.94l4 4M354.5 133.94l4-4M354.5 127.35l4 4M354.5 131.35l4-4M354.5 124.75l4 4M354.5 128.75l4-4M354.5 122.16l4 4M354.5 126.16l4-4M354.5 119.56l4 4M354.5 123.56l4-4M354.5 116.97l4 4M354.5 120.97l4-4M354.5 114.37l4 4M354.5 118.37l4-4M354.5 111.78l4 4M354.5 115.78l4-4M354.5 109.19l4 4M354.5 113.19l4-4M354.5 106.59l4 4M354.5 110.59l4-4M354.5 104l4 4M354.5 108l4-4M354.5 101.4l4 4M354.5 105.4l4-4M354.5 98.81l4 4M354.5 102.81l4-4M354.5 96.21l4 4M354.5 100.21l4-4M354.5 93.62l4 4M354.5 97.62l4-4M354.5 91.02l4 4M354.5 95.02l4-4M354.5 88.43l4 4M354.5 92.43l4-4M354.5 85.83l4 4M354.5 89.83l4-4M354.5 83.24l4 4M354.5 87.24l4-4M354.5 80.65l4 4M354.5 84.65l4-4M354.5 78.05l4 4M354.5 82.05l4-4M354.5 75.46l4 4M354.5 79.46l4-4M354.5 72.86l4 4M354.5 76.86l4-4M354.5 70.27l4 4M354.5 74.27l4-4M354.5 67.67l4 4M354.5 71.67l4-4M354.5 65.08l4 4M354.5 69.08l4-4M354.5 62.48l4 4M354.5 66.48l4-4M354.5 59.89l4 4M354.5 63.89l4-4M354.5 57.3l4 4M354.5 61.3l4-4M354.5 54.7l4 4M354.5 58.7l4-4M354.5 52.11l4 4M354.5 56.11l4-4M354.5 49.51l4 4M354.5 53.51l4-4M354.5 46.92l4 4M354.5 50.92l4-4M354.5 44.32l4 4M354.5 48.32l4-4M354.5 41.73l4 4M354.5 45.73l4-4M354.5 39.13l4 4M354.5 43.13l4-4M360.9 135.13l4 4M360.9 139.13l4-4M360.9 132.54l4 4M360.9 136.54l4-4M360.9 129.94l4 4M360.9 133.94l4-4M360.9 127.35l4 4M360.9 131.35l4-4M360.9 124.75l4 4M360.9 128.75l4-4M360.9 122.16l4 4M360.9 126.16l4-4M360.9 119.56l4 4M360.9 123.56l4-4M360.9 116.97l4 4M360.9 120.97l4-4M360.9 114.37l4 4M360.9 118.37l4-4M360.9 111.78l4 4M360.9 115.78l4-4M360.9 109.19l4 4M360.9 113.19l4-4M360.9 106.59l4 4M360.9 110.59l4-4M360.9 104l4 4M360.9 108l4-4M360.9 101.4l4 4M360.9 105.4l4-4M360.9 98.81l4 4M360.9 102.81l4-4M360.9 96.21l4 4M360.9 100.21l4-4M360.9 93.62l4 4M360.9 97.62l4-4M360.9 91.02l4 4M360.9 95.02l4-4M360.9 88.43l4 4M360.9 92.43l4-4M360.9 85.83l4 4M360.9 89.83l4-4M360.9 83.24l4 4M360.9 87.24l4-4M360.9 80.65l4 4M360.9 84.65l4-4M360.9 78.05l4 4M360.9 82.05l4-4M360.9 75.46l4 4M360.9 79.46l4-4M360.9 72.86l4 4M360.9 76.86l4-4M360.9 70.27l4 4M360.9 74.27l4-4M360.9 67.67l4 4M360.9 71.67l4-4M360.9 65.08l4 4M360.9 69.08l4-4M360.9 62.48l4 4M360.9 66.48l4-4M360.9 59.89l4 4M360.9 63.89l4-4M360.9 57.3l4 4M360.9 61.3l4-4M360.9 54.7l4 4M360.9 58.7l4-4M360.9 52.11l4 4M360.9 56.11l4-4M360.9 49.51l4 4M360.9 53.51l4-4M360.9 46.92l4 4M360.9 50.92l4-4M360.9 44.32l4 4M360.9 48.32l4-4M360.9 41.73l4 4M360.9 45.73l4-4M360.9 39.13l4 4M360.9 43.13l4-4M360.9 36.54l4 4M360.9 40.54l4-4M360.9 33.94l4 4M360.9 37.94l4-4M360.9 31.35l4 4M360.9 35.35l4-4M367.3 132.54l4 4M367.3 136.54l4-4M367.3 129.94l4 4M367.3 133.94l4-4M367.3 127.35l4 4M367.3 131.35l4-4M367.3 124.75l4 4M367.3 128.75l4-4M367.3 122.16l4 4M367.3 126.16l4-4M367.3 119.56l4 4M367.3 123.56l4-4M367.3 116.97l4 4M367.3 120.97l4-4M367.3 114.37l4 4M367.3 118.37l4-4M367.3 111.78l4 4M367.3 115.78l4-4M367.3 109.19l4 4M367.3 113.19l4-4M367.3 106.59l4 4M367.3 110.59l4-4M367.3 104l4 4M367.3 108l4-4M367.3 101.4l4 4M367.3 105.4l4-4M367.3 98.81l4 4M367.3 102.81l4-4M367.3 96.21l4 4M367.3 100.21l4-4M367.3 93.62l4 4M367.3 97.62l4-4M367.3 91.02l4 4M367.3 95.02l4-4M367.3 88.43l4 4M367.3 92.43l4-4M367.3 85.83l4 4M367.3 89.83l4-4M367.3 83.24l4 4M367.3 87.24l4-4M367.3 80.65l4 4M367.3 84.65l4-4M367.3 78.05l4 4M367.3 82.05l4-4M367.3 75.46l4 4M367.3 79.46l4-4M367.3 72.86l4 4M367.3 76.86l4-4M367.3 70.27l4 4M367.3 74.27l4-4M367.3 67.67l4 4M367.3 71.67l4-4M367.3 65.08l4 4M367.3 69.08l4-4M367.3 62.48l4 4M367.3 66.48l4-4M367.3 59.89l4 4M367.3 63.89l4-4M367.3 57.3l4 4M367.3 61.3l4-4M367.3 54.7l4 4M367.3 58.7l4-4M367.3 52.11l4 4M367.3 56.11l4-4M367.3 49.51l4 4M367.3 53.51l4-4M367.3 46.92l4 4M367.3 50.92l4-4M367.3 44.32l4 4M367.3 48.32l4-4M367.3 41.73l4 4M367.3 45.73l4-4M367.3 39.13l4 4M367.3 43.13l4-4M367.3 36.54l4 4M367.3 40.54l4-4M367.3 33.94l4 4M367.3 37.94l4-4M367.3 31.35l4 4M367.3 35.35l4-4M367.3 28.76l4 4M367.3 32.76l4-4M367.3 26.16l4 4M367.3 30.16l4-4M367.3 23.57l4 4M367.3 27.57l4-4M373.7 129.94l4 4M373.7 133.94l4-4M373.7 127.35l4 4M373.7 131.35l4-4M373.7 124.75l4 4M373.7 128.75l4-4M373.7 122.16l4 4M373.7 126.16l4-4M373.7 119.56l4 4M373.7 123.56l4-4M373.7 116.97l4 4M373.7 120.97l4-4M373.7 114.37l4 4M373.7 118.37l4-4M373.7 111.78l4 4M373.7 115.78l4-4M373.7 109.19l4 4M373.7 113.19l4-4M373.7 106.59l4 4M373.7 110.59l4-4M373.7 104l4 4M373.7 108l4-4M373.7 101.4l4 4M373.7 105.4l4-4M373.7 98.81l4 4M373.7 102.81l4-4M373.7 96.21l4 4M373.7 100.21l4-4M373.7 93.62l4 4M373.7 97.62l4-4M373.7 91.02l4 4M373.7 95.02l4-4M373.7 88.43l4 4M373.7 92.43l4-4M373.7 85.83l4 4M373.7 89.83l4-4M373.7 83.24l4 4M373.7 87.24l4-4M373.7 80.65l4 4M373.7 84.65l4-4M373.7 78.05l4 4M373.7 82.05l4-4M373.7 75.46l4 4M373.7 79.46l4-4M373.7 72.86l4 4M373.7 76.86l4-4M373.7 70.27l4 4M373.7 74.27l4-4M373.7 67.67l4 4M373.7 71.67l4-4M373.7 65.08l4 4M373.7 69.08l4-4M373.7 62.48l4 4M373.7 66.48l4-4M373.7 59.89l4 4M373.7 63.89l4-4M373.7 57.3l4 4M373.7 61.3l4-4M373.7 54.7l4 4M373.7 58.7l4-4M373.7 52.11l4 4M373.7 56.11l4-4M373.7 49.51l4 4M373.7 53.51l4-4M373.7 46.92l4 4M373.7 50.92l4-4M373.7 44.32l4 4M373.7 48.32l4-4M373.7 41.73l4 4M373.7 45.73l4-4M373.7 39.13l4 4M373.7 43.13l4-4M373.7 36.54l4 4M373.7 40.54l4-4M373.7 33.94l4 4M373.7 37.94l4-4M373.7 31.35l4 4M373.7 35.35l4-4M373.7 28.76l4 4M373.7 32.76l4-4M373.7 26.16l4 4M373.7 30.16l4-4M373.7 23.57l4 4M373.7 27.57l4-4M373.7 20.97l4 4M373.7 24.97l4-4M373.7 18.38l4 4M373.7 22.38l4-4M373.7 15.78l4 4M373.7 19.78l4-4M380.1 127.35l4 4M380.1 131.35l4-4M380.1 124.75l4 4M380.1 128.75l4-4M380.1 122.16l4 4M380.1 126.16l4-4M380.1 119.56l4 4M380.1 123.56l4-4M380.1 116.97l4 4M380.1 120.97l4-4M380.1 114.37l4 4M380.1 118.37l4-4M380.1 111.78l4 4M380.1 115.78l4-4M380.1 109.19l4 4M380.1 113.19l4-4M380.1 106.59l4 4M380.1 110.59l4-4M380.1 104l4 4M380.1 108l4-4M380.1 101.4l4 4M380.1 105.4l4-4M380.1 98.81l4 4M380.1 102.81l4-4M380.1 96.21l4 4M380.1 100.21l4-4M380.1 93.62l4 4M380.1 97.62l4-4M380.1 91.02l4 4M380.1 95.02l4-4M380.1 88.43l4 4M380.1 92.43l4-4M380.1 85.83l4 4M380.1 89.83l4-4M380.1 83.24l4 4M380.1 87.24l4-4M380.1 80.65l4 4M380.1 84.65l4-4M380.1 78.05l4 4M380.1 82.05l4-4M380.1 75.46l4 4M380.1 79.46l4-4M380.1 72.86l4 4M380.1 76.86l4-4M380.1 70.27l4 4M380.1 74.27l4-4M380.1 67.67l4 4M380.1 71.67l4-4M380.1 65.08l4 4M380.1 69.08l4-4M380.1 62.48l4 4M380.1 66.48l4-4M380.1 59.89l4 4M380.1 63.89l4-4M380.1 57.3l4 4M380.1 61.3l4-4M380.1 54.7l4 4M380.1 58.7l4-4M380.1 52.11l4 4M380.1 56.11l4-4M380.1 49.51l4 4M380.1 53.51l4-4M380.1 46.92l4 4M380.1 50.92l4-4M380.1 44.32l4 4M380.1 48.32l4-4M380.1 41.73l4 4M380.1 45.73l4-4M380.1 39.13l4 4M380.1 43.13l4-4M380.1 36.54l4 4M380.1 40.54l4-4M380.1 33.94l4 4M380.1 37.94l4-4M380.1 31.35l4 4M380.1 35.35l4-4M380.1 28.76l4 4M380.1 32.76l4-4M380.1 26.16l4 4M380.1 30.16l4-4M380.1 23.57l4 4M380.1 27.57l4-4M380.1 20.97l4 4M380.1 24.97l4-4M380.1 18.38l4 4M380.1 22.38l4-4M380.1 15.78l4 4M380.1 19.78l4-4M380.1 13.19l4 4M380.1 17.19l4-4M380.1 10.59l4 4M380.1 14.59l4-4M380.1 8l4 4M380.1 12l4-4M386.5 124.75l4 4M386.5 128.75l4-4M386.5 122.16l4 4M386.5 126.16l4-4M386.5 119.56l4 4M386.5 123.56l4-4M386.5 116.97l4 4M386.5 120.97l4-4M386.5 114.37l4 4M386.5 118.37l4-4M386.5 111.78l4 4M386.5 115.78l4-4M386.5 109.19l4 4M386.5 113.19l4-4M386.5 106.59l4 4M386.5 110.59l4-4M386.5 104l4 4M386.5 108l4-4M386.5 101.4l4 4M386.5 105.4l4-4M386.5 98.81l4 4M386.5 102.81l4-4M386.5 96.21l4 4M386.5 100.21l4-4M386.5 93.62l4 4M386.5 97.62l4-4M386.5 91.02l4 4M386.5 95.02l4-4M386.5 88.43l4 4M386.5 92.43l4-4M386.5 85.83l4 4M386.5 89.83l4-4M386.5 83.24l4 4M386.5 87.24l4-4M386.5 80.65l4 4M386.5 84.65l4-4M386.5 78.05l4 4M386.5 82.05l4-4M386.5 75.46l4 4M386.5 79.46l4-4M386.5 72.86l4 4M386.5 76.86l4-4M386.5 70.27l4 4M386.5 74.27l4-4M386.5 67.67l4 4M386.5 71.67l4-4M386.5 65.08l4 4M386.5 69.08l4-4M386.5 62.48l4 4M386.5 66.48l4-4M386.5 59.89l4 4M386.5 63.89l4-4M386.5 57.3l4 4M386.5 61.3l4-4M386.5 54.7l4 4M386.5 58.7l4-4M386.5 52.11l4 4M386.5 56.11l4-4M386.5 49.51l4 4M386.5 53.51l4-4M386.5 46.92l4 4M386.5 50.92l4-4M386.5 44.32l4 4M386.5 48.32l4-4M386.5 41.73l4 4M386.5 45.73l4-4M386.5 39.13l4 4M386.5 43.13l4-4M386.5 36.54l4 4M386.5 40.54l4-4M386.5 33.94l4 4M386.5 37.94l4-4M386.5 31.35l4 4M386.5 35.35l4-4M386.5 28.76l4 4M386.5 32.76l4-4M386.5 26.16l4 4M386.5 30.16l4-4M386.5 23.57l4 4M386.5 27.57l4-4M386.5 20.97l4 4M386.5 24.97l4-4M386.5 18.38l4 4M386.5 22.38l4-4M386.5 15.78l4 4M386.5 19.78l4-4M386.5 13.19l4 4M386.5 17.19l4-4M386.5 10.59l4 4M386.5 14.59l4-4M386.5 8l4 4M386.5 12l4-4M392.9 122.16l4 4M392.9 126.16l4-4M392.9 119.56l4 4M392.9 123.56l4-4M392.9 116.97l4 4M392.9 120.97l4-4M392.9 114.37l4 4M392.9 118.37l4-4M392.9 111.78l4 4M392.9 115.78l4-4M392.9 109.19l4 4M392.9 113.19l4-4M392.9 106.59l4 4M392.9 110.59l4-4M392.9 104l4 4M392.9 108l4-4M392.9 101.4l4 4M392.9 105.4l4-4M392.9 98.81l4 4M392.9 102.81l4-4M392.9 96.21l4 4M392.9 100.21l4-4M392.9 93.62l4 4M392.9 97.62l4-4M392.9 91.02l4 4M392.9 95.02l4-4M392.9 88.43l4 4M392.9 92.43l4-4M392.9 85.83l4 4M392.9 89.83l4-4M392.9 83.24l4 4M392.9 87.24l4-4M392.9 80.65l4 4M392.9 84.65l4-4M392.9 78.05l4 4M392.9 82.05l4-4M392.9 75.46l4 4M392.9 79.46l4-4M392.9 72.86l4 4M392.9 76.86l4-4M392.9 70.27l4 4M392.9 74.27l4-4M392.9 67.67l4 4M392.9 71.67l4-4M392.9 65.08l4 4M392.9 69.08l4-4M392.9 62.48l4 4M392.9 66.48l4-4M392.9 59.89l4 4M392.9 63.89l4-4M392.9 57.3l4 4M392.9 61.3l4-4M392.9 54.7l4 4M392.9 58.7l4-4M392.9 52.11l4 4M392.9 56.11l4-4M392.9 49.51l4 4M392.9 53.51l4-4M392.9 46.92l4 4M392.9 50.92l4-4M392.9 44.32l4 4M392.9 48.32l4-4M392.9 41.73l4 4M392.9 45.73l4-4M392.9 39.13l4 4M392.9 43.13l4-4M392.9 36.54l4 4M392.9 40.54l4-4M392.9 33.94l4 4M392.9 37.94l4-4M392.9 31.35l4 4M392.9 35.35l4-4M392.9 28.76l4 4M392.9 32.76l4-4M392.9 26.16l4 4M392.9 30.16l4-4M392.9 23.57l4 4M392.9 27.57l4-4M392.9 20.97l4 4M392.9 24.97l4-4M392.9 18.38l4 4M392.9 22.38l4-4M392.9 15.78l4 4M392.9 19.78l4-4M392.9 13.19l4 4M392.9 17.19l4-4M392.9 10.59l4 4M392.9 14.59l4-4M392.9 8l4 4M392.9 12l4-4M399.3 119.56l4 4M399.3 123.56l4-4M399.3 116.97l4 4M399.3 120.97l4-4M399.3 114.37l4 4M399.3 118.37l4-4M399.3 111.78l4 4M399.3 115.78l4-4M399.3 109.19l4 4M399.3 113.19l4-4M399.3 106.59l4 4M399.3 110.59l4-4M399.3 104l4 4M399.3 108l4-4M399.3 101.4l4 4M399.3 105.4l4-4M399.3 98.81l4 4M399.3 102.81l4-4M399.3 96.21l4 4M399.3 100.21l4-4M399.3 93.62l4 4M399.3 97.62l4-4M399.3 91.02l4 4M399.3 95.02l4-4M399.3 88.43l4 4M399.3 92.43l4-4M399.3 85.83l4 4M399.3 89.83l4-4M399.3 83.24l4 4M399.3 87.24l4-4M399.3 80.65l4 4M399.3 84.65l4-4M399.3 78.05l4 4M399.3 82.05l4-4M399.3 75.46l4 4M399.3 79.46l4-4M399.3 72.86l4 4M399.3 76.86l4-4M399.3 70.27l4 4M399.3 74.27l4-4M399.3 67.67l4 4M399.3 71.67l4-4M399.3 65.08l4 4M399.3 69.08l4-4M399.3 62.48l4 4M399.3 66.48l4-4M399.3 59.89l4 4M399.3 63.89l4-4M399.3 57.3l4 4M399.3 61.3l4-4M399.3 54.7l4 4M399.3 58.7l4-4M399.3 52.11l4 4M399.3 56.11l4-4M399.3 49.51l4 4M399.3 53.51l4-4M399.3 46.92l4 4M399.3 50.92l4-4M399.3 44.32l4 4M399.3 48.32l4-4M399.3 41.73l4 4M399.3 45.73l4-4M399.3 39.13l4 4M399.3 43.13l4-4M399.3 36.54l4 4M399.3 40.54l4-4M399.3 33.94l4 4M399.3 37.94l4-4M399.3 31.35l4 4M399.3 35.35l4-4M399.3 28.76l4 4M399.3 32.76l4-4M399.3 26.16l4 4M399.3 30.16l4-4M399.3 23.57l4 4M399.3 27.57l4-4M399.3 20.97l4 4M399.3 24.97l4-4M399.3 18.38l4 4M399.3 22.38l4-4M399.3 15.78l4 4M399.3 19.78l4-4M399.3 13.19l4 4M399.3 17.19l4-4M399.3 10.59l4 4M399.3 14.59l4-4M399.3 8l4 4M399.3 12l4-4M405.7 116.97l4 4M405.7 120.97l4-4M405.7 114.37l4 4M405.7 118.37l4-4M405.7 111.78l4 4M405.7 115.78l4-4M405.7 109.19l4 4M405.7 113.19l4-4M405.7 106.59l4 4M405.7 110.59l4-4M405.7 104l4 4M405.7 108l4-4M405.7 101.4l4 4M405.7 105.4l4-4M405.7 98.81l4 4M405.7 102.81l4-4M405.7 96.21l4 4M405.7 100.21l4-4M405.7 93.62l4 4M405.7 97.62l4-4M405.7 91.02l4 4M405.7 95.02l4-4M405.7 88.43l4 4M405.7 92.43l4-4M405.7 85.83l4 4M405.7 89.83l4-4M405.7 83.24l4 4M405.7 87.24l4-4M405.7 80.65l4 4M405.7 84.65l4-4M405.7 78.05l4 4M405.7 82.05l4-4M405.7 75.46l4 4M405.7 79.46l4-4M405.7 72.86l4 4M405.7 76.86l4-4M405.7 70.27l4 4M405.7 74.27l4-4M405.7 67.67l4 4M405.7 71.67l4-4M405.7 65.08l4 4M405.7 69.08l4-4M405.7 62.48l4 4M405.7 66.48l4-4M405.7 59.89l4 4M405.7 63.89l4-4M405.7 57.3l4 4M405.7 61.3l4-4M405.7 54.7l4 4M405.7 58.7l4-4M405.7 52.11l4 4M405.7 56.11l4-4M405.7 49.51l4 4M405.7 53.51l4-4M405.7 46.92l4 4M405.7 50.92l4-4M405.7 44.32l4 4M405.7 48.32l4-4M405.7 41.73l4 4M405.7 45.73l4-4M405.7 39.13l4 4M405.7 43.13l4-4M405.7 36.54l4 4M405.7 40.54l4-4M405.7 33.94l4 4M405.7 37.94l4-4M405.7 31.35l4 4M405.7 35.35l4-4M405.7 28.76l4 4M405.7 32.76l4-4M405.7 26.16l4 4M405.7 30.16l4-4M405.7 23.57l4 4M405.7 27.57l4-4M405.7 20.97l4 4M405.7 24.97l4-4M405.7 18.38l4 4M405.7 22.38l4-4M405.7 15.78l4 4M405.7 19.78l4-4M405.7 13.19l4 4M405.7 17.19l4-4M405.7 10.59l4 4M405.7 14.59l4-4M405.7 8l4 4M405.7 12l4-4M412.1 114.37l4 4M412.1 118.37l4-4M412.1 111.78l4 4M412.1 115.78l4-4M412.1 109.19l4 4M412.1 113.19l4-4M412.1 106.59l4 4M412.1 110.59l4-4M412.1 104l4 4M412.1 108l4-4M412.1 101.4l4 4M412.1 105.4l4-4M412.1 98.81l4 4M412.1 102.81l4-4M412.1 96.21l4 4M412.1 100.21l4-4M412.1 93.62l4 4M412.1 97.62l4-4M412.1 91.02l4 4M412.1 95.02l4-4M412.1 88.43l4 4M412.1 92.43l4-4M412.1 85.83l4 4M412.1 89.83l4-4M412.1 83.24l4 4M412.1 87.24l4-4M412.1 80.65l4 4M412.1 84.65l4-4M412.1 78.05l4 4M412.1 82.05l4-4M412.1 75.46l4 4M412.1 79.46l4-4M412.1 72.86l4 4M412.1 76.86l4-4M412.1 70.27l4 4M412.1 74.27l4-4M412.1 67.67l4 4M412.1 71.67l4-4M412.1 65.08l4 4M412.1 69.08l4-4M412.1 62.48l4 4M412.1 66.48l4-4M412.1 59.89l4 4M412.1 63.89l4-4M412.1 57.3l4 4M412.1 61.3l4-4M412.1 54.7l4 4M412.1 58.7l4-4M412.1 52.11l4 4M412.1 56.11l4-4M412.1 49.51l4 4M412.1 53.51l4-4M412.1 46.92l4 4M412.1 50.92l4-4M412.1 44.32l4 4M412.1 48.32l4-4M412.1 41.73l4 4M412.1 45.73l4-4M412.1 39.13l4 4M412.1 43.13l4-4M412.1 36.54l4 4M412.1 40.54l4-4M412.1 33.94l4 4M412.1 37.94l4-4M412.1 31.35l4 4M412.1 35.35l4-4M412.1 28.76l4 4M412.1 32.76l4-4M412.1 26.16l4 4M412.1 30.16l4-4M412.1 23.57l4 4M412.1 27.57l4-4M412.1 20.97l4 4M412.1 24.97l4-4M412.1 18.38l4 4M412.1 22.38l4-4M412.1 15.78l4 4M412.1 19.78l4-4M412.1 13.19l4 4M412.1 17.19l4-4M412.1 10.59l4 4M412.1 14.59l4-4M412.1 8l4 4M412.1 12l4-4M418.5 111.78l4 4M418.5 115.78l4-4M418.5 109.19l4 4M418.5 113.19l4-4M418.5 106.59l4 4M418.5 110.59l4-4M418.5 104l4 4M418.5 108l4-4M418.5 101.4l4 4M418.5 105.4l4-4M418.5 98.81l4 4M418.5 102.81l4-4M418.5 96.21l4 4M418.5 100.21l4-4M418.5 93.62l4 4M418.5 97.62l4-4M418.5 91.02l4 4M418.5 95.02l4-4M418.5 88.43l4 4M418.5 92.43l4-4M418.5 85.83l4 4M418.5 89.83l4-4M418.5 83.24l4 4M418.5 87.24l4-4M418.5 80.65l4 4M418.5 84.65l4-4M418.5 78.05l4 4M418.5 82.05l4-4M418.5 75.46l4 4M418.5 79.46l4-4M418.5 72.86l4 4M418.5 76.86l4-4M418.5 70.27l4 4M418.5 74.27l4-4M418.5 67.67l4 4M418.5 71.67l4-4M418.5 65.08l4 4M418.5 69.08l4-4M418.5 62.48l4 4M418.5 66.48l4-4M418.5 59.89l4 4M418.5 63.89l4-4M418.5 57.3l4 4M418.5 61.3l4-4M418.5 54.7l4 4M418.5 58.7l4-4M418.5 52.11l4 4M418.5 56.11l4-4M418.5 49.51l4 4M418.5 53.51l4-4M418.5 46.92l4 4M418.5 50.92l4-4M418.5 44.32l4 4M418.5 48.32l4-4M418.5 41.73l4 4M418.5 45.73l4-4M418.5 39.13l4 4M418.5 43.13l4-4M418.5 36.54l4 4M418.5 40.54l4-4M418.5 33.94l4 4M418.5 37.94l4-4M418.5 31.35l4 4M418.5 35.35l4-4M418.5 28.76l4 4M418.5 32.76l4-4M418.5 26.16l4 4M418.5 30.16l4-4M418.5 23.57l4 4M418.5 27.57l4-4M418.5 20.97l4 4M418.5 24.97l4-4M418.5 18.38l4 4M418.5 22.38l4-4M418.5 15.78l4 4M418.5 19.78l4-4M418.5 13.19l4 4M418.5 17.19l4-4M418.5 10.59l4 4M418.5 14.59l4-4M418.5 8l4 4M418.5 12l4-4"/>
</g>
<defs><filter id="f"><feOffset dx="0" dy="0"/></filter></defs>
<g filter="url(#f)">
<text x="37.85" y="280.7" text-anchor="middle" style="font-size:8.8px">0</text><text x="101.85" y="280.7" text-anchor="middle" style="font-size:8.8px">1</text><text x="165.85" y="280.7" text-anchor="middle" style="font-size:8.8px">2</text><text x="229.85" y="280.7" text-anchor="middle" style="font-size:8.8px">3</text><text x="293.85" y="280.7" text-anchor="middle" style="font-size:8.8px">4</text><text x="357.85" y="280.7" text-anchor="middle" style="font-size:8.8px">5</text><text x="421.85" y="280.7" text-anchor="middle" style="font-size:8.8px">6</text><text x="31.2" y="272.45" text-anchor="end">0</text><text x="31.2" y="220.56" text-anchor="end">2</text><text x="31.2" y="168.67" text-anchor="end">4</text><text x="31.2" y="116.78" text-anchor="end">6</text><text x="31.2" y="64.89" text-anchor="end">8</text><text x="31.2" y="13.00" text-anchor="end">10</text>
<text x="208.5" y="292.5" style="font-size:8.2px">M</text>
<text x="214.9" y="294.7" style="font-size:6.1px">W</text>
<text x="222.4" y="292.5" style="font-size:8.2px">&#39;</text>
<text x="226.5" y="292.5" style="font-size:8.2px" textLength="21.1" lengthAdjust="spacingAndGlyphs">(TeV)</text>
<text transform="translate(9.6 140) rotate(-90)" text-anchor="middle" style="font-size:8.8px">f (TeV)</text>
</g>
</svg>
</body></html>
